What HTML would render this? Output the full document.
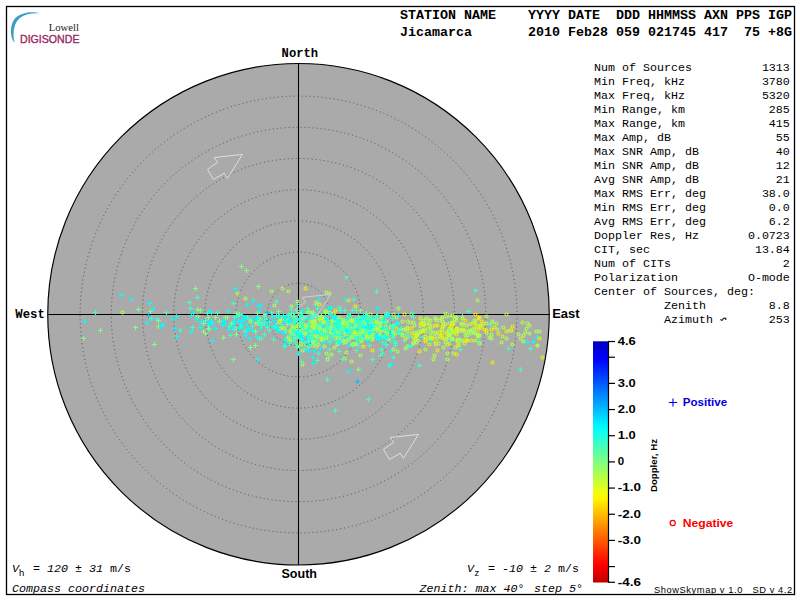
<!DOCTYPE html><html><head><meta charset="utf-8"><style>html,body{margin:0;padding:0;background:#fff;width:800px;height:600px;overflow:hidden}svg{display:block}</style></head><body>
<svg width="800" height="600" viewBox="0 0 800 600">
<defs><linearGradient id="jet" x1="0" y1="0" x2="0" y2="1">
<stop offset="0.000" stop-color="#0000bc"/>
<stop offset="0.025" stop-color="#0000d3"/>
<stop offset="0.050" stop-color="#0000e9"/>
<stop offset="0.075" stop-color="#0001ff"/>
<stop offset="0.100" stop-color="#0017ff"/>
<stop offset="0.125" stop-color="#002dff"/>
<stop offset="0.150" stop-color="#0044ff"/>
<stop offset="0.175" stop-color="#005aff"/>
<stop offset="0.200" stop-color="#0071ff"/>
<stop offset="0.225" stop-color="#0087ff"/>
<stop offset="0.250" stop-color="#009eff"/>
<stop offset="0.275" stop-color="#00b4ff"/>
<stop offset="0.300" stop-color="#00caff"/>
<stop offset="0.325" stop-color="#00e1ff"/>
<stop offset="0.350" stop-color="#00f7ff"/>
<stop offset="0.375" stop-color="#0fffef"/>
<stop offset="0.400" stop-color="#25ffd9"/>
<stop offset="0.425" stop-color="#3cffc2"/>
<stop offset="0.450" stop-color="#52ffac"/>
<stop offset="0.475" stop-color="#69ff95"/>
<stop offset="0.500" stop-color="#7fff7f"/>
<stop offset="0.525" stop-color="#95ff69"/>
<stop offset="0.550" stop-color="#acff52"/>
<stop offset="0.575" stop-color="#c2ff3c"/>
<stop offset="0.600" stop-color="#d9ff25"/>
<stop offset="0.625" stop-color="#efff0f"/>
<stop offset="0.650" stop-color="#fff700"/>
<stop offset="0.675" stop-color="#ffe100"/>
<stop offset="0.700" stop-color="#ffca00"/>
<stop offset="0.725" stop-color="#ffb400"/>
<stop offset="0.750" stop-color="#ff9e00"/>
<stop offset="0.775" stop-color="#ff8700"/>
<stop offset="0.800" stop-color="#ff7100"/>
<stop offset="0.825" stop-color="#ff5a00"/>
<stop offset="0.850" stop-color="#ff4400"/>
<stop offset="0.875" stop-color="#ff2d00"/>
<stop offset="0.900" stop-color="#ff1700"/>
<stop offset="0.925" stop-color="#ff0100"/>
<stop offset="0.950" stop-color="#e90000"/>
<stop offset="0.975" stop-color="#d30000"/>
<stop offset="1.000" stop-color="#bc0000"/>
</linearGradient></defs>
<rect x="0" y="0" width="800" height="600" fill="#fff"/>
<rect x="6.5" y="6.5" width="788" height="588" fill="none" stroke="#000" stroke-width="1.3"/>
<circle cx="298.50" cy="314.25" r="250.75" fill="#aaaaaa" stroke="#000" stroke-width="1.15"/>
<circle cx="298.50" cy="314.50" r="31.20" fill="none" stroke="#505050" stroke-width="1" stroke-dasharray="1 3"/>
<circle cx="298.50" cy="314.50" r="62.40" fill="none" stroke="#505050" stroke-width="1" stroke-dasharray="1 3"/>
<circle cx="298.50" cy="314.50" r="93.60" fill="none" stroke="#505050" stroke-width="1" stroke-dasharray="1 3"/>
<circle cx="298.50" cy="314.50" r="124.80" fill="none" stroke="#505050" stroke-width="1" stroke-dasharray="1 3"/>
<circle cx="298.50" cy="314.50" r="156.00" fill="none" stroke="#505050" stroke-width="1" stroke-dasharray="1 3"/>
<circle cx="298.50" cy="314.50" r="187.20" fill="none" stroke="#505050" stroke-width="1" stroke-dasharray="1 3"/>
<circle cx="298.50" cy="314.50" r="218.40" fill="none" stroke="#505050" stroke-width="1" stroke-dasharray="1 3"/>
<line x1="298.50" y1="63.50" x2="298.50" y2="565.00" stroke="#000" stroke-width="1.05"/>
<line x1="47.75" y1="314.50" x2="549.25" y2="314.50" stroke="#000" stroke-width="1.05"/>
<polygon points="242.5,154.4 214.3,157.5 217.6,162.3 207.5,169.3 213.4,179.5 224.3,173.2 227.4,178.3" fill="none" stroke="#dedede" stroke-width="1.0" stroke-linejoin="miter"/>
<polygon points="418.5,434.4 390.3,437.5 393.6,442.3 383.5,449.3 389.4,459.5 400.3,453.2 403.4,458.3" fill="none" stroke="#dedede" stroke-width="1.0" stroke-linejoin="miter"/>
<g fill="none" stroke-width="1.1">
<path d="M348.0 315.5h5M350.5 313.0v5" stroke="#80ff80"/>
<path d="M308.0 334.5h5M310.5 332.0v5" stroke="#40ffc0"/>
<path d="M210.0 323.5h5M212.5 321.0v5" stroke="#00ffff"/>
<path d="M316.0 334.5h5M318.5 332.0v5" stroke="#40ffc0"/>
<path d="M346.0 326.5h5M348.5 324.0v5" stroke="#40ffc0"/>
<path d="M239.0 320.5h5M241.5 318.0v5" stroke="#00ffff"/>
<path d="M299.0 313.5h5M301.5 311.0v5" stroke="#40ffc0"/>
<circle cx="309.5" cy="312.5" r="1.5" stroke-width="1.15" stroke="#b0ff50"/>
<path d="M307.0 329.5h5M309.5 327.0v5" stroke="#40ffc0"/>
<circle cx="455.5" cy="347.5" r="1.5" stroke-width="1.15" stroke="#b0ff50"/>
<path d="M302.0 317.5h5M304.5 315.0v5" stroke="#00ffff"/>
<circle cx="376.5" cy="319.5" r="1.5" stroke-width="1.15" stroke="#b0ff50"/>
<circle cx="297.5" cy="337.5" r="1.5" stroke-width="1.15" stroke="#b0ff50"/>
<circle cx="441.5" cy="318.5" r="1.5" stroke-width="1.15" stroke="#b0ff50"/>
<circle cx="297.5" cy="346.5" r="1.5" stroke-width="1.15" stroke="#b0ff50"/>
<circle cx="415.5" cy="339.5" r="1.5" stroke-width="1.15" stroke="#b0ff50"/>
<circle cx="456.5" cy="320.5" r="1.5" stroke-width="1.15" stroke="#b0ff50"/>
<circle cx="434.5" cy="355.5" r="1.5" stroke-width="1.15" stroke="#b0ff50"/>
<circle cx="366.5" cy="331.5" r="1.5" stroke-width="1.15" stroke="#b0ff50"/>
<path d="M362.0 332.5h5M364.5 330.0v5" stroke="#00ffff"/>
<path d="M314.0 331.5h5M316.5 329.0v5" stroke="#40ffc0"/>
<path d="M148.0 311.5h5M150.5 309.0v5" stroke="#80ff80"/>
<circle cx="280.5" cy="328.5" r="1.5" stroke-width="1.15" stroke="#b0ff50"/>
<path d="M342.0 325.5h5M344.5 323.0v5" stroke="#40ffc0"/>
<path d="M223.0 317.5h5M225.5 315.0v5" stroke="#80ff80"/>
<path d="M345.0 322.5h5M347.5 320.0v5" stroke="#40ffc0"/>
<path d="M356.0 332.5h5M358.5 330.0v5" stroke="#40ffc0"/>
<path d="M246.0 328.5h5M248.5 326.0v5" stroke="#00ffff"/>
<circle cx="522.5" cy="322.5" r="1.5" stroke-width="1.15" stroke="#b0ff50"/>
<path d="M276.0 331.5h5M278.5 329.0v5" stroke="#00ffff"/>
<circle cx="345.5" cy="329.5" r="1.5" stroke-width="1.15" stroke="#b0ff50"/>
<path d="M244.0 324.5h5M246.5 322.0v5" stroke="#00ffff"/>
<path d="M363.0 315.5h5M365.5 313.0v5" stroke="#00ffff"/>
<path d="M348.0 337.5h5M350.5 335.0v5" stroke="#40ffc0"/>
<path d="M352.0 331.5h5M354.5 329.0v5" stroke="#40ffc0"/>
<path d="M359.0 340.5h5M361.5 338.0v5" stroke="#00ffff"/>
<circle cx="478.5" cy="336.5" r="1.5" stroke-width="1.15" stroke="#b0ff50"/>
<circle cx="314.5" cy="329.5" r="1.5" stroke-width="1.15" stroke="#f2f000"/>
<path d="M346.0 317.5h5M348.5 315.0v5" stroke="#00ffff"/>
<path d="M324.0 327.5h5M326.5 325.0v5" stroke="#40ffc0"/>
<circle cx="300.5" cy="326.5" r="1.5" stroke-width="1.15" stroke="#b0ff50"/>
<circle cx="369.5" cy="333.5" r="1.5" stroke-width="1.15" stroke="#b0ff50"/>
<circle cx="321.5" cy="339.5" r="1.5" stroke-width="1.15" stroke="#b0ff50"/>
<path d="M286.0 317.5h5M288.5 315.0v5" stroke="#00ffff"/>
<path d="M370.0 323.5h5M372.5 321.0v5" stroke="#40ffc0"/>
<circle cx="359.5" cy="331.5" r="1.5" stroke-width="1.15" stroke="#f2f000"/>
<circle cx="337.5" cy="332.5" r="1.5" stroke-width="1.15" stroke="#b0ff50"/>
<path d="M296.0 334.5h5M298.5 332.0v5" stroke="#40ffc0"/>
<path d="M93.0 312.5h5M95.5 310.0v5" stroke="#40ffc0"/>
<path d="M335.0 318.5h5M337.5 316.0v5" stroke="#40ffc0"/>
<path d="M170.0 318.5h5M172.5 316.0v5" stroke="#00ffff"/>
<path d="M335.0 329.5h5M337.5 327.0v5" stroke="#40ffc0"/>
<path d="M234.0 313.5h5M236.5 311.0v5" stroke="#80ff80"/>
<path d="M305.0 337.5h5M307.5 335.0v5" stroke="#00ffff"/>
<path d="M299.0 338.5h5M301.5 336.0v5" stroke="#00ffff"/>
<circle cx="458.5" cy="345.5" r="1.5" stroke-width="1.15" stroke="#b0ff50"/>
<path d="M289.0 313.5h5M291.5 311.0v5" stroke="#80ff80"/>
<path d="M358.0 322.5h5M360.5 320.0v5" stroke="#80ff80"/>
<circle cx="302.5" cy="350.5" r="1.5" stroke-width="1.15" stroke="#b0ff50"/>
<path d="M362.0 319.5h5M364.5 317.0v5" stroke="#00ffff"/>
<circle cx="314.5" cy="325.5" r="1.5" stroke-width="1.15" stroke="#f2f000"/>
<path d="M362.0 324.5h5M364.5 322.0v5" stroke="#40ffc0"/>
<path d="M342.0 327.5h5M344.5 325.0v5" stroke="#00ffff"/>
<path d="M390.0 335.5h5M392.5 333.0v5" stroke="#40ffc0"/>
<circle cx="489.5" cy="337.5" r="1.5" stroke-width="1.15" stroke="#b0ff50"/>
<circle cx="288.5" cy="320.5" r="1.5" stroke-width="1.15" stroke="#b0ff50"/>
<path d="M353.0 332.5h5M355.5 330.0v5" stroke="#00ffff"/>
<path d="M358.0 321.5h5M360.5 319.0v5" stroke="#40ffc0"/>
<path d="M281.0 315.5h5M283.5 313.0v5" stroke="#40ffc0"/>
<path d="M308.0 318.5h5M310.5 316.0v5" stroke="#00ffff"/>
<path d="M312.0 350.5h5M314.5 348.0v5" stroke="#00ffff"/>
<circle cx="453.5" cy="323.5" r="1.5" stroke-width="1.15" stroke="#b0ff50"/>
<path d="M395.0 323.5h5M397.5 321.0v5" stroke="#40ffc0"/>
<circle cx="430.5" cy="320.5" r="1.5" stroke-width="1.15" stroke="#b0ff50"/>
<path d="M136.0 309.5h5M138.5 307.0v5" stroke="#80ff80"/>
<path d="M320.0 332.5h5M322.5 330.0v5" stroke="#40ffc0"/>
<path d="M365.0 327.5h5M367.5 325.0v5" stroke="#40ffc0"/>
<path d="M364.0 323.5h5M366.5 321.0v5" stroke="#00ffff"/>
<circle cx="457.5" cy="340.5" r="1.5" stroke-width="1.15" stroke="#b0ff50"/>
<path d="M201.0 331.5h5M203.5 329.0v5" stroke="#80ff80"/>
<path d="M319.0 315.5h5M321.5 313.0v5" stroke="#40ffc0"/>
<circle cx="410.5" cy="322.5" r="1.5" stroke-width="1.15" stroke="#b0ff50"/>
<path d="M366.0 399.5h5M368.5 397.0v5" stroke="#40ffc0"/>
<path d="M352.0 328.5h5M354.5 326.0v5" stroke="#00ffff"/>
<path d="M284.0 322.5h5M286.5 320.0v5" stroke="#40ffc0"/>
<circle cx="325.5" cy="338.5" r="1.5" stroke-width="1.15" stroke="#b0ff50"/>
<path d="M298.0 330.5h5M300.5 328.0v5" stroke="#40ffc0"/>
<circle cx="428.5" cy="319.5" r="1.5" stroke-width="1.15" stroke="#b0ff50"/>
<path d="M289.0 334.5h5M291.5 332.0v5" stroke="#40ffc0"/>
<circle cx="341.5" cy="327.5" r="1.5" stroke-width="1.15" stroke="#b0ff50"/>
<path d="M243.0 331.5h5M245.5 329.0v5" stroke="#80ff80"/>
<path d="M206.0 323.5h5M208.5 321.0v5" stroke="#00ffff"/>
<path d="M364.0 335.5h5M366.5 333.0v5" stroke="#40ffc0"/>
<path d="M335.0 321.5h5M337.5 319.0v5" stroke="#40ffc0"/>
<circle cx="365.5" cy="327.5" r="1.5" stroke-width="1.15" stroke="#b0ff50"/>
<path d="M312.0 344.5h5M314.5 342.0v5" stroke="#40ffc0"/>
<circle cx="475.5" cy="321.5" r="1.5" stroke-width="1.15" stroke="#b0ff50"/>
<path d="M325.0 323.5h5M327.5 321.0v5" stroke="#40ffc0"/>
<path d="M345.0 325.5h5M347.5 323.0v5" stroke="#40ffc0"/>
<path d="M310.0 317.5h5M312.5 315.0v5" stroke="#00ffff"/>
<path d="M355.0 339.5h5M357.5 337.0v5" stroke="#00ffff"/>
<circle cx="425.5" cy="349.5" r="1.5" stroke-width="1.15" stroke="#b0ff50"/>
<path d="M341.0 336.5h5M343.5 334.0v5" stroke="#40ffc0"/>
<path d="M374.0 291.5h5M376.5 289.0v5" stroke="#40ffc0"/>
<circle cx="290.5" cy="330.5" r="1.5" stroke-width="1.15" stroke="#b0ff50"/>
<circle cx="354.5" cy="328.5" r="1.5" stroke-width="1.15" stroke="#b0ff50"/>
<circle cx="429.5" cy="344.5" r="1.5" stroke-width="1.15" stroke="#f2f000"/>
<circle cx="305.5" cy="288.5" r="1.5" stroke-width="1.15" stroke="#f2f000"/>
<path d="M305.0 324.5h5M307.5 322.0v5" stroke="#40ffc0"/>
<circle cx="474.5" cy="332.5" r="1.5" stroke-width="1.15" stroke="#b0ff50"/>
<circle cx="454.5" cy="319.5" r="1.5" stroke-width="1.15" stroke="#b0ff50"/>
<path d="M345.0 327.5h5M347.5 325.0v5" stroke="#00ffff"/>
<path d="M308.0 335.5h5M310.5 333.0v5" stroke="#40ffc0"/>
<path d="M364.0 329.5h5M366.5 327.0v5" stroke="#00ffff"/>
<circle cx="529.5" cy="325.5" r="1.5" stroke-width="1.15" stroke="#b0ff50"/>
<path d="M360.0 319.5h5M362.5 317.0v5" stroke="#40ffc0"/>
<path d="M239.0 324.5h5M241.5 322.0v5" stroke="#00ffff"/>
<path d="M422.0 319.5h5M424.5 317.0v5" stroke="#40ffc0"/>
<circle cx="320.5" cy="318.5" r="1.5" stroke-width="1.15" stroke="#b0ff50"/>
<path d="M377.0 338.5h5M379.5 336.0v5" stroke="#00ffff"/>
<path d="M334.0 325.5h5M336.5 323.0v5" stroke="#00ffff"/>
<path d="M164.0 312.5h5M166.5 310.0v5" stroke="#40ffc0"/>
<circle cx="446.5" cy="333.5" r="1.5" stroke-width="1.15" stroke="#f2f000"/>
<path d="M193.0 288.5h5M195.5 286.0v5" stroke="#80ff80"/>
<path d="M385.0 339.5h5M387.5 337.0v5" stroke="#80ff80"/>
<circle cx="506.5" cy="338.5" r="1.5" stroke-width="1.15" stroke="#b0ff50"/>
<path d="M285.0 337.5h5M287.5 335.0v5" stroke="#40ffc0"/>
<path d="M195.0 297.5h5M197.5 295.0v5" stroke="#40ffc0"/>
<path d="M373.0 317.5h5M375.5 315.0v5" stroke="#40ffc0"/>
<path d="M334.0 331.5h5M336.5 329.0v5" stroke="#40ffc0"/>
<circle cx="402.5" cy="335.5" r="1.5" stroke-width="1.15" stroke="#b0ff50"/>
<path d="M203.0 320.5h5M205.5 318.0v5" stroke="#40ffc0"/>
<circle cx="450.5" cy="330.5" r="1.5" stroke-width="1.15" stroke="#f2f000"/>
<circle cx="375.5" cy="322.5" r="1.5" stroke-width="1.15" stroke="#b0ff50"/>
<path d="M349.0 319.5h5M351.5 317.0v5" stroke="#80ff80"/>
<circle cx="424.5" cy="329.5" r="1.5" stroke-width="1.15" stroke="#f2f000"/>
<path d="M338.0 331.5h5M340.5 329.0v5" stroke="#40ffc0"/>
<path d="M310.0 341.5h5M312.5 339.0v5" stroke="#40ffc0"/>
<path d="M343.0 325.5h5M345.5 323.0v5" stroke="#40ffc0"/>
<circle cx="305.5" cy="333.5" r="1.5" stroke-width="1.15" stroke="#b0ff50"/>
<path d="M317.0 331.5h5M319.5 329.0v5" stroke="#40ffc0"/>
<path d="M292.0 316.5h5M294.5 314.0v5" stroke="#40ffc0"/>
<circle cx="432.5" cy="326.5" r="1.5" stroke-width="1.15" stroke="#b0ff50"/>
<path d="M256.0 286.5h5M258.5 284.0v5" stroke="#80ff80"/>
<path d="M352.0 320.5h5M354.5 318.0v5" stroke="#00ffff"/>
<path d="M308.0 334.5h5M310.5 332.0v5" stroke="#40ffc0"/>
<circle cx="456.5" cy="328.5" r="1.5" stroke-width="1.15" stroke="#f2f000"/>
<path d="M535.0 337.5h5M537.5 335.0v5" stroke="#00ffff"/>
<circle cx="303.5" cy="344.5" r="1.5" stroke-width="1.15" stroke="#b0ff50"/>
<circle cx="407.5" cy="336.5" r="1.5" stroke-width="1.15" stroke="#f2f000"/>
<circle cx="422.5" cy="330.5" r="1.5" stroke-width="1.15" stroke="#b0ff50"/>
<path d="M245.0 304.5h5M247.5 302.0v5" stroke="#00ffff"/>
<circle cx="477.5" cy="335.5" r="1.5" stroke-width="1.15" stroke="#b0ff50"/>
<path d="M296.0 353.5h5M298.5 351.0v5" stroke="#00ffff"/>
<path d="M392.0 334.5h5M394.5 332.0v5" stroke="#40ffc0"/>
<circle cx="448.5" cy="330.5" r="1.5" stroke-width="1.15" stroke="#b0ff50"/>
<path d="M363.0 328.5h5M365.5 326.0v5" stroke="#40ffc0"/>
<path d="M342.0 321.5h5M344.5 319.0v5" stroke="#00ffff"/>
<path d="M322.0 334.5h5M324.5 332.0v5" stroke="#40ffc0"/>
<path d="M402.0 340.5h5M404.5 338.0v5" stroke="#40ffc0"/>
<circle cx="360.5" cy="339.5" r="1.5" stroke-width="1.15" stroke="#b0ff50"/>
<circle cx="385.5" cy="326.5" r="1.5" stroke-width="1.15" stroke="#b0ff50"/>
<path d="M383.0 344.5h5M385.5 342.0v5" stroke="#00ffff"/>
<circle cx="424.5" cy="324.5" r="1.5" stroke-width="1.15" stroke="#b0ff50"/>
<path d="M325.0 379.5h5M327.5 377.0v5" stroke="#40ffc0"/>
<circle cx="351.5" cy="361.5" r="1.5" stroke-width="1.15" stroke="#b0ff50"/>
<path d="M378.0 325.5h5M380.5 323.0v5" stroke="#40ffc0"/>
<path d="M245.0 331.5h5M247.5 329.0v5" stroke="#00ffff"/>
<path d="M232.0 317.5h5M234.5 315.0v5" stroke="#40ffc0"/>
<path d="M337.0 351.5h5M339.5 349.0v5" stroke="#40ffc0"/>
<path d="M362.0 320.5h5M364.5 318.0v5" stroke="#40ffc0"/>
<circle cx="418.5" cy="331.5" r="1.5" stroke-width="1.15" stroke="#b0ff50"/>
<path d="M258.0 328.5h5M260.5 326.0v5" stroke="#00ffff"/>
<path d="M189.0 331.5h5M191.5 329.0v5" stroke="#00ffff"/>
<circle cx="539.5" cy="338.5" r="1.5" stroke-width="1.15" stroke="#f2f000"/>
<path d="M293.0 318.5h5M295.5 316.0v5" stroke="#40ffc0"/>
<path d="M328.0 325.5h5M330.5 323.0v5" stroke="#40ffc0"/>
<path d="M146.0 315.5h5M148.5 313.0v5" stroke="#00c0ff"/>
<path d="M292.0 337.5h5M294.5 335.0v5" stroke="#40ffc0"/>
<circle cx="405.5" cy="338.5" r="1.5" stroke-width="1.15" stroke="#f2f000"/>
<circle cx="456.5" cy="331.5" r="1.5" stroke-width="1.15" stroke="#f2f000"/>
<path d="M284.0 322.5h5M286.5 320.0v5" stroke="#00ffff"/>
<path d="M381.0 337.5h5M383.5 335.0v5" stroke="#00ffff"/>
<path d="M297.0 320.5h5M299.5 318.0v5" stroke="#00ffff"/>
<circle cx="503.5" cy="327.5" r="1.5" stroke-width="1.15" stroke="#b0ff50"/>
<path d="M323.0 337.5h5M325.5 335.0v5" stroke="#40ffc0"/>
<circle cx="330.5" cy="332.5" r="1.5" stroke-width="1.15" stroke="#f2f000"/>
<circle cx="451.5" cy="338.5" r="1.5" stroke-width="1.15" stroke="#b0ff50"/>
<path d="M336.0 322.5h5M338.5 320.0v5" stroke="#40ffc0"/>
<circle cx="425.5" cy="339.5" r="1.5" stroke-width="1.15" stroke="#f2f000"/>
<circle cx="471.5" cy="340.5" r="1.5" stroke-width="1.15" stroke="#b0ff50"/>
<circle cx="377.5" cy="330.5" r="1.5" stroke-width="1.15" stroke="#b0ff50"/>
<circle cx="390.5" cy="327.5" r="1.5" stroke-width="1.15" stroke="#b0ff50"/>
<path d="M308.0 317.5h5M310.5 315.0v5" stroke="#40ffc0"/>
<circle cx="314.5" cy="320.5" r="1.5" stroke-width="1.15" stroke="#b0ff50"/>
<path d="M366.0 319.5h5M368.5 317.0v5" stroke="#40ffc0"/>
<path d="M275.0 323.5h5M277.5 321.0v5" stroke="#40ffc0"/>
<path d="M267.0 330.5h5M269.5 328.0v5" stroke="#40ffc0"/>
<path d="M322.0 321.5h5M324.5 319.0v5" stroke="#00ffff"/>
<path d="M346.0 337.5h5M348.5 335.0v5" stroke="#40ffc0"/>
<circle cx="364.5" cy="324.5" r="1.5" stroke-width="1.15" stroke="#b0ff50"/>
<circle cx="475.5" cy="340.5" r="1.5" stroke-width="1.15" stroke="#f2f000"/>
<path d="M198.0 327.5h5M200.5 325.0v5" stroke="#00ffff"/>
<circle cx="380.5" cy="327.5" r="1.5" stroke-width="1.15" stroke="#b0ff50"/>
<path d="M362.0 330.5h5M364.5 328.0v5" stroke="#00ffff"/>
<path d="M318.0 327.5h5M320.5 325.0v5" stroke="#40ffc0"/>
<circle cx="356.5" cy="319.5" r="1.5" stroke-width="1.15" stroke="#f2f000"/>
<path d="M334.0 330.5h5M336.5 328.0v5" stroke="#80ff80"/>
<circle cx="437.5" cy="350.5" r="1.5" stroke-width="1.15" stroke="#f2f000"/>
<circle cx="396.5" cy="328.5" r="1.5" stroke-width="1.15" stroke="#ffe400"/>
<circle cx="430.5" cy="329.5" r="1.5" stroke-width="1.15" stroke="#b0ff50"/>
<path d="M304.0 350.5h5M306.5 348.0v5" stroke="#00ffff"/>
<path d="M283.0 345.5h5M285.5 343.0v5" stroke="#00ffff"/>
<path d="M368.0 329.5h5M370.5 327.0v5" stroke="#40ffc0"/>
<path d="M147.0 303.5h5M149.5 301.0v5" stroke="#00ffff"/>
<path d="M369.0 333.5h5M371.5 331.0v5" stroke="#00ffff"/>
<path d="M310.0 324.5h5M312.5 322.0v5" stroke="#40ffc0"/>
<path d="M429.0 339.5h5M431.5 337.0v5" stroke="#40ffc0"/>
<path d="M299.0 317.5h5M301.5 315.0v5" stroke="#00ffff"/>
<path d="M306.0 336.5h5M308.5 334.0v5" stroke="#00ffff"/>
<path d="M329.0 328.5h5M331.5 326.0v5" stroke="#40ffc0"/>
<path d="M311.0 329.5h5M313.5 327.0v5" stroke="#40ffc0"/>
<path d="M420.0 337.5h5M422.5 335.0v5" stroke="#40ffc0"/>
<circle cx="474.5" cy="328.5" r="1.5" stroke-width="1.15" stroke="#b0ff50"/>
<path d="M338.0 342.5h5M340.5 340.0v5" stroke="#00ffff"/>
<circle cx="407.5" cy="327.5" r="1.5" stroke-width="1.15" stroke="#f2f000"/>
<circle cx="297.5" cy="301.5" r="1.5" stroke-width="1.15" stroke="#b0ff50"/>
<circle cx="381.5" cy="316.5" r="1.5" stroke-width="1.15" stroke="#b0ff50"/>
<circle cx="386.5" cy="331.5" r="1.5" stroke-width="1.15" stroke="#b0ff50"/>
<circle cx="472.5" cy="329.5" r="1.5" stroke-width="1.15" stroke="#b0ff50"/>
<path d="M325.0 328.5h5M327.5 326.0v5" stroke="#40ffc0"/>
<path d="M369.0 331.5h5M371.5 329.0v5" stroke="#00ffff"/>
<path d="M369.0 330.5h5M371.5 328.0v5" stroke="#40ffc0"/>
<path d="M308.0 331.5h5M310.5 329.0v5" stroke="#40ffc0"/>
<path d="M293.0 325.5h5M295.5 323.0v5" stroke="#00ffff"/>
<path d="M311.0 363.5h5M313.5 361.0v5" stroke="#00ffff"/>
<path d="M297.0 329.5h5M299.5 327.0v5" stroke="#40ffc0"/>
<circle cx="478.5" cy="329.5" r="1.5" stroke-width="1.15" stroke="#f2f000"/>
<path d="M393.0 345.5h5M395.5 343.0v5" stroke="#40ffc0"/>
<path d="M225.0 317.5h5M227.5 315.0v5" stroke="#80ff80"/>
<circle cx="447.5" cy="344.5" r="1.5" stroke-width="1.15" stroke="#f2f000"/>
<path d="M365.0 316.5h5M367.5 314.0v5" stroke="#80ff80"/>
<circle cx="453.5" cy="353.5" r="1.5" stroke-width="1.15" stroke="#b0ff50"/>
<path d="M361.0 339.5h5M363.5 337.0v5" stroke="#40ffc0"/>
<path d="M382.0 322.5h5M384.5 320.0v5" stroke="#40ffc0"/>
<path d="M323.0 313.5h5M325.5 311.0v5" stroke="#40ffc0"/>
<path d="M340.0 324.5h5M342.5 322.0v5" stroke="#40ffc0"/>
<path d="M313.0 304.5h5M315.5 302.0v5" stroke="#40ffc0"/>
<circle cx="393.5" cy="325.5" r="1.5" stroke-width="1.15" stroke="#b0ff50"/>
<path d="M358.0 310.5h5M360.5 308.0v5" stroke="#80ff80"/>
<path d="M327.0 349.5h5M329.5 347.0v5" stroke="#40ffc0"/>
<path d="M460.0 316.5h5M462.5 314.0v5" stroke="#40ffc0"/>
<path d="M262.0 316.5h5M264.5 314.0v5" stroke="#40ffc0"/>
<path d="M207.0 325.5h5M209.5 323.0v5" stroke="#00ffff"/>
<path d="M213.0 328.5h5M215.5 326.0v5" stroke="#00ffff"/>
<path d="M336.0 327.5h5M338.5 325.0v5" stroke="#80ff80"/>
<path d="M345.0 321.5h5M347.5 319.0v5" stroke="#40ffc0"/>
<circle cx="442.5" cy="317.5" r="1.5" stroke-width="1.15" stroke="#b0ff50"/>
<path d="M231.0 303.5h5M233.5 301.0v5" stroke="#40ffc0"/>
<circle cx="397.5" cy="351.5" r="1.5" stroke-width="1.15" stroke="#b0ff50"/>
<path d="M259.0 325.5h5M261.5 323.0v5" stroke="#40ffc0"/>
<path d="M325.0 335.5h5M327.5 333.0v5" stroke="#00ffff"/>
<circle cx="393.5" cy="314.5" r="1.5" stroke-width="1.15" stroke="#b0ff50"/>
<path d="M356.0 316.5h5M358.5 314.0v5" stroke="#00ffff"/>
<path d="M303.0 327.5h5M305.5 325.0v5" stroke="#40ffc0"/>
<circle cx="501.5" cy="342.5" r="1.5" stroke-width="1.15" stroke="#b0ff50"/>
<circle cx="445.5" cy="313.5" r="1.5" stroke-width="1.15" stroke="#b0ff50"/>
<circle cx="363.5" cy="322.5" r="1.5" stroke-width="1.15" stroke="#b0ff50"/>
<circle cx="348.5" cy="300.5" r="1.5" stroke-width="1.15" stroke="#f2f000"/>
<path d="M377.0 325.5h5M379.5 323.0v5" stroke="#80ff80"/>
<path d="M355.0 339.5h5M357.5 337.0v5" stroke="#00ffff"/>
<circle cx="382.5" cy="330.5" r="1.5" stroke-width="1.15" stroke="#b0ff50"/>
<path d="M356.0 325.5h5M358.5 323.0v5" stroke="#40ffc0"/>
<path d="M311.0 314.5h5M313.5 312.0v5" stroke="#40ffc0"/>
<path d="M377.0 335.5h5M379.5 333.0v5" stroke="#40ffc0"/>
<circle cx="479.5" cy="317.5" r="1.5" stroke-width="1.15" stroke="#f2f000"/>
<path d="M346.0 338.5h5M348.5 336.0v5" stroke="#00ffff"/>
<path d="M357.0 337.5h5M359.5 335.0v5" stroke="#40ffc0"/>
<path d="M373.0 327.5h5M375.5 325.0v5" stroke="#40ffc0"/>
<path d="M354.0 339.5h5M356.5 337.0v5" stroke="#40ffc0"/>
<circle cx="395.5" cy="333.5" r="1.5" stroke-width="1.15" stroke="#b0ff50"/>
<circle cx="350.5" cy="328.5" r="1.5" stroke-width="1.15" stroke="#b0ff50"/>
<path d="M298.0 323.5h5M300.5 321.0v5" stroke="#40ffc0"/>
<path d="M156.0 326.5h5M158.5 324.0v5" stroke="#80ff80"/>
<path d="M269.0 312.5h5M271.5 310.0v5" stroke="#40ffc0"/>
<path d="M287.0 320.5h5M289.5 318.0v5" stroke="#00ffff"/>
<path d="M340.0 322.5h5M342.5 320.0v5" stroke="#40ffc0"/>
<circle cx="378.5" cy="323.5" r="1.5" stroke-width="1.15" stroke="#b0ff50"/>
<path d="M355.0 322.5h5M357.5 320.0v5" stroke="#40ffc0"/>
<path d="M349.0 324.5h5M351.5 322.0v5" stroke="#00ffff"/>
<path d="M317.0 325.5h5M319.5 323.0v5" stroke="#40ffc0"/>
<path d="M311.0 312.5h5M313.5 310.0v5" stroke="#40ffc0"/>
<path d="M98.0 330.5h5M100.5 328.0v5" stroke="#80ff80"/>
<path d="M353.0 322.5h5M355.5 320.0v5" stroke="#00ffff"/>
<circle cx="471.5" cy="333.5" r="1.5" stroke-width="1.15" stroke="#b0ff50"/>
<circle cx="353.5" cy="332.5" r="1.5" stroke-width="1.15" stroke="#b0ff50"/>
<path d="M326.0 357.5h5M328.5 355.0v5" stroke="#40ffc0"/>
<path d="M343.0 330.5h5M345.5 328.0v5" stroke="#40ffc0"/>
<circle cx="337.5" cy="327.5" r="1.5" stroke-width="1.15" stroke="#b0ff50"/>
<circle cx="443.5" cy="326.5" r="1.5" stroke-width="1.15" stroke="#b0ff50"/>
<path d="M293.0 342.5h5M295.5 340.0v5" stroke="#00ffff"/>
<path d="M315.0 308.5h5M317.5 306.0v5" stroke="#40ffc0"/>
<circle cx="474.5" cy="323.5" r="1.5" stroke-width="1.15" stroke="#b0ff50"/>
<path d="M272.0 320.5h5M274.5 318.0v5" stroke="#00ffff"/>
<path d="M384.0 328.5h5M386.5 326.0v5" stroke="#40ffc0"/>
<circle cx="435.5" cy="325.5" r="1.5" stroke-width="1.15" stroke="#f2f000"/>
<path d="M173.0 328.5h5M175.5 326.0v5" stroke="#00ffff"/>
<path d="M301.0 328.5h5M303.5 326.0v5" stroke="#80ff80"/>
<path d="M317.0 299.5h5M319.5 297.0v5" stroke="#00ffff"/>
<circle cx="311.5" cy="324.5" r="1.5" stroke-width="1.15" stroke="#b0ff50"/>
<circle cx="411.5" cy="314.5" r="1.5" stroke-width="1.15" stroke="#b0ff50"/>
<circle cx="465.5" cy="320.5" r="1.5" stroke-width="1.15" stroke="#ffe400"/>
<path d="M335.0 326.5h5M337.5 324.0v5" stroke="#40ffc0"/>
<path d="M149.0 318.5h5M151.5 316.0v5" stroke="#40ffc0"/>
<path d="M336.0 319.5h5M338.5 317.0v5" stroke="#00ffff"/>
<path d="M347.0 345.5h5M349.5 343.0v5" stroke="#40ffc0"/>
<path d="M364.0 335.5h5M366.5 333.0v5" stroke="#80ff80"/>
<circle cx="433.5" cy="332.5" r="1.5" stroke-width="1.15" stroke="#b0ff50"/>
<path d="M391.0 332.5h5M393.5 330.0v5" stroke="#40ffc0"/>
<path d="M325.0 332.5h5M327.5 330.0v5" stroke="#40ffc0"/>
<path d="M351.0 324.5h5M353.5 322.0v5" stroke="#00ffff"/>
<path d="M312.0 336.5h5M314.5 334.0v5" stroke="#40ffc0"/>
<path d="M339.0 330.5h5M341.5 328.0v5" stroke="#40ffc0"/>
<path d="M285.0 324.5h5M287.5 322.0v5" stroke="#80ff80"/>
<circle cx="402.5" cy="334.5" r="1.5" stroke-width="1.15" stroke="#b0ff50"/>
<circle cx="395.5" cy="342.5" r="1.5" stroke-width="1.15" stroke="#b0ff50"/>
<path d="M334.0 333.5h5M336.5 331.0v5" stroke="#40ffc0"/>
<circle cx="299.5" cy="326.5" r="1.5" stroke-width="1.15" stroke="#b0ff50"/>
<path d="M305.0 331.5h5M307.5 329.0v5" stroke="#40ffc0"/>
<circle cx="437.5" cy="325.5" r="1.5" stroke-width="1.15" stroke="#f2f000"/>
<path d="M359.0 326.5h5M361.5 324.0v5" stroke="#80ff80"/>
<circle cx="332.5" cy="320.5" r="1.5" stroke-width="1.15" stroke="#b0ff50"/>
<circle cx="330.5" cy="328.5" r="1.5" stroke-width="1.15" stroke="#b0ff50"/>
<circle cx="411.5" cy="328.5" r="1.5" stroke-width="1.15" stroke="#f2f000"/>
<circle cx="348.5" cy="315.5" r="1.5" stroke-width="1.15" stroke="#b0ff50"/>
<circle cx="529.5" cy="333.5" r="1.5" stroke-width="1.15" stroke="#b0ff50"/>
<circle cx="338.5" cy="324.5" r="1.5" stroke-width="1.15" stroke="#b0ff50"/>
<circle cx="475.5" cy="314.5" r="1.5" stroke-width="1.15" stroke="#ffe400"/>
<path d="M428.0 340.5h5M430.5 338.0v5" stroke="#00ffff"/>
<circle cx="376.5" cy="323.5" r="1.5" stroke-width="1.15" stroke="#b0ff50"/>
<path d="M356.0 333.5h5M358.5 331.0v5" stroke="#40ffc0"/>
<circle cx="452.5" cy="331.5" r="1.5" stroke-width="1.15" stroke="#f2f000"/>
<path d="M365.0 329.5h5M367.5 327.0v5" stroke="#80ff80"/>
<circle cx="356.5" cy="331.5" r="1.5" stroke-width="1.15" stroke="#b0ff50"/>
<circle cx="197.5" cy="316.5" r="1.5" stroke-width="1.15" stroke="#b0ff50"/>
<circle cx="364.5" cy="328.5" r="1.5" stroke-width="1.15" stroke="#b0ff50"/>
<circle cx="479.5" cy="343.5" r="1.5" stroke-width="1.15" stroke="#b0ff50"/>
<circle cx="307.5" cy="312.5" r="1.5" stroke-width="1.15" stroke="#b0ff50"/>
<circle cx="379.5" cy="329.5" r="1.5" stroke-width="1.15" stroke="#b0ff50"/>
<path d="M342.0 321.5h5M344.5 319.0v5" stroke="#00ffff"/>
<path d="M397.0 332.5h5M399.5 330.0v5" stroke="#40ffc0"/>
<circle cx="320.5" cy="320.5" r="1.5" stroke-width="1.15" stroke="#f2f000"/>
<circle cx="432.5" cy="338.5" r="1.5" stroke-width="1.15" stroke="#b0ff50"/>
<path d="M234.0 334.5h5M236.5 332.0v5" stroke="#80ff80"/>
<path d="M357.0 318.5h5M359.5 316.0v5" stroke="#40ffc0"/>
<path d="M276.0 328.5h5M278.5 326.0v5" stroke="#00ffff"/>
<path d="M289.0 331.5h5M291.5 329.0v5" stroke="#80ff80"/>
<path d="M338.0 310.5h5M340.5 308.0v5" stroke="#40ffc0"/>
<circle cx="449.5" cy="334.5" r="1.5" stroke-width="1.15" stroke="#b0ff50"/>
<path d="M346.0 329.5h5M348.5 327.0v5" stroke="#00ffff"/>
<circle cx="344.5" cy="358.5" r="1.5" stroke-width="1.15" stroke="#b0ff50"/>
<circle cx="512.5" cy="326.5" r="1.5" stroke-width="1.15" stroke="#f2f000"/>
<circle cx="462.5" cy="318.5" r="1.5" stroke-width="1.15" stroke="#f2f000"/>
<path d="M194.0 319.5h5M196.5 317.0v5" stroke="#00ffff"/>
<path d="M368.0 332.5h5M370.5 330.0v5" stroke="#00ffff"/>
<circle cx="461.5" cy="324.5" r="1.5" stroke-width="1.15" stroke="#b0ff50"/>
<path d="M226.0 329.5h5M228.5 327.0v5" stroke="#00ffff"/>
<circle cx="366.5" cy="337.5" r="1.5" stroke-width="1.15" stroke="#f2f000"/>
<path d="M326.0 320.5h5M328.5 318.0v5" stroke="#40ffc0"/>
<path d="M243.0 335.5h5M245.5 333.0v5" stroke="#00ffff"/>
<circle cx="438.5" cy="343.5" r="1.5" stroke-width="1.15" stroke="#b0ff50"/>
<circle cx="456.5" cy="334.5" r="1.5" stroke-width="1.15" stroke="#f2f000"/>
<path d="M330.0 340.5h5M332.5 338.0v5" stroke="#00ffff"/>
<circle cx="373.5" cy="322.5" r="1.5" stroke-width="1.15" stroke="#f2f000"/>
<path d="M242.0 318.5h5M244.5 316.0v5" stroke="#00ffff"/>
<circle cx="300.5" cy="333.5" r="1.5" stroke-width="1.15" stroke="#f2f000"/>
<circle cx="355.5" cy="344.5" r="1.5" stroke-width="1.15" stroke="#b0ff50"/>
<path d="M270.0 326.5h5M272.5 324.0v5" stroke="#40ffc0"/>
<circle cx="415.5" cy="338.5" r="1.5" stroke-width="1.15" stroke="#f2f000"/>
<path d="M264.0 319.5h5M266.5 317.0v5" stroke="#40ffc0"/>
<path d="M380.0 342.5h5M382.5 340.0v5" stroke="#40ffc0"/>
<path d="M375.0 308.5h5M377.5 306.0v5" stroke="#00ffff"/>
<circle cx="334.5" cy="329.5" r="1.5" stroke-width="1.15" stroke="#b0ff50"/>
<path d="M345.0 339.5h5M347.5 337.0v5" stroke="#40ffc0"/>
<circle cx="271.5" cy="291.5" r="1.5" stroke-width="1.15" stroke="#b0ff50"/>
<path d="M323.0 332.5h5M325.5 330.0v5" stroke="#40ffc0"/>
<path d="M316.0 332.5h5M318.5 330.0v5" stroke="#40ffc0"/>
<path d="M391.0 337.5h5M393.5 335.0v5" stroke="#40ffc0"/>
<circle cx="413.5" cy="342.5" r="1.5" stroke-width="1.15" stroke="#b0ff50"/>
<path d="M264.0 325.5h5M266.5 323.0v5" stroke="#00ffff"/>
<path d="M331.0 328.5h5M333.5 326.0v5" stroke="#40ffc0"/>
<path d="M335.0 336.5h5M337.5 334.0v5" stroke="#80ff80"/>
<circle cx="434.5" cy="336.5" r="1.5" stroke-width="1.15" stroke="#b0ff50"/>
<path d="M332.0 318.5h5M334.5 316.0v5" stroke="#00ffff"/>
<circle cx="338.5" cy="333.5" r="1.5" stroke-width="1.15" stroke="#f2f000"/>
<path d="M313.0 314.5h5M315.5 312.0v5" stroke="#40ffc0"/>
<path d="M438.0 330.5h5M440.5 328.0v5" stroke="#40ffc0"/>
<circle cx="311.5" cy="330.5" r="1.5" stroke-width="1.15" stroke="#f2f000"/>
<circle cx="317.5" cy="336.5" r="1.5" stroke-width="1.15" stroke="#b0ff50"/>
<path d="M356.0 325.5h5M358.5 323.0v5" stroke="#00ffff"/>
<path d="M322.0 322.5h5M324.5 320.0v5" stroke="#80ff80"/>
<path d="M235.0 316.5h5M237.5 314.0v5" stroke="#00ffff"/>
<circle cx="396.5" cy="317.5" r="1.5" stroke-width="1.15" stroke="#b0ff50"/>
<circle cx="363.5" cy="329.5" r="1.5" stroke-width="1.15" stroke="#b0ff50"/>
<circle cx="527.5" cy="323.5" r="1.5" stroke-width="1.15" stroke="#b0ff50"/>
<circle cx="363.5" cy="346.5" r="1.5" stroke-width="1.15" stroke="#f2f000"/>
<path d="M318.0 336.5h5M320.5 334.0v5" stroke="#40ffc0"/>
<path d="M376.0 331.5h5M378.5 329.0v5" stroke="#40ffc0"/>
<circle cx="319.5" cy="318.5" r="1.5" stroke-width="1.15" stroke="#f2f000"/>
<circle cx="379.5" cy="329.5" r="1.5" stroke-width="1.15" stroke="#b0ff50"/>
<path d="M355.0 323.5h5M357.5 321.0v5" stroke="#40ffc0"/>
<path d="M335.0 333.5h5M337.5 331.0v5" stroke="#00ffff"/>
<path d="M343.0 325.5h5M345.5 323.0v5" stroke="#40ffc0"/>
<circle cx="475.5" cy="333.5" r="1.5" stroke-width="1.15" stroke="#b0ff50"/>
<path d="M247.0 338.5h5M249.5 336.0v5" stroke="#00ffff"/>
<path d="M257.0 318.5h5M259.5 316.0v5" stroke="#00ffff"/>
<path d="M203.0 333.5h5M205.5 331.0v5" stroke="#80ff80"/>
<path d="M230.0 329.5h5M232.5 327.0v5" stroke="#00ffff"/>
<circle cx="498.5" cy="333.5" r="1.5" stroke-width="1.15" stroke="#f2f000"/>
<path d="M247.0 319.5h5M249.5 317.0v5" stroke="#40ffc0"/>
<path d="M340.0 359.5h5M342.5 357.0v5" stroke="#40ffc0"/>
<circle cx="350.5" cy="322.5" r="1.5" stroke-width="1.15" stroke="#f2f000"/>
<circle cx="305.5" cy="332.5" r="1.5" stroke-width="1.15" stroke="#f2f000"/>
<path d="M294.0 310.5h5M296.5 308.0v5" stroke="#40ffc0"/>
<circle cx="457.5" cy="331.5" r="1.5" stroke-width="1.15" stroke="#b0ff50"/>
<path d="M287.0 340.5h5M289.5 338.0v5" stroke="#40ffc0"/>
<circle cx="353.5" cy="320.5" r="1.5" stroke-width="1.15" stroke="#b0ff50"/>
<path d="M406.0 336.5h5M408.5 334.0v5" stroke="#40ffc0"/>
<path d="M320.0 335.5h5M322.5 333.0v5" stroke="#40ffc0"/>
<circle cx="335.5" cy="323.5" r="1.5" stroke-width="1.15" stroke="#b0ff50"/>
<path d="M315.0 360.5h5M317.5 358.0v5" stroke="#40ffc0"/>
<path d="M348.0 337.5h5M350.5 335.0v5" stroke="#40ffc0"/>
<circle cx="407.5" cy="346.5" r="1.5" stroke-width="1.15" stroke="#b0ff50"/>
<path d="M359.0 332.5h5M361.5 330.0v5" stroke="#40ffc0"/>
<circle cx="469.5" cy="330.5" r="1.5" stroke-width="1.15" stroke="#b0ff50"/>
<circle cx="387.5" cy="337.5" r="1.5" stroke-width="1.15" stroke="#b0ff50"/>
<path d="M372.0 325.5h5M374.5 323.0v5" stroke="#40ffc0"/>
<circle cx="312.5" cy="345.5" r="1.5" stroke-width="1.15" stroke="#b0ff50"/>
<circle cx="323.5" cy="318.5" r="1.5" stroke-width="1.15" stroke="#b0ff50"/>
<path d="M344.0 320.5h5M346.5 318.0v5" stroke="#00ffff"/>
<path d="M359.0 325.5h5M361.5 323.0v5" stroke="#40ffc0"/>
<path d="M291.0 316.5h5M293.5 314.0v5" stroke="#80ff80"/>
<path d="M341.0 325.5h5M343.5 323.0v5" stroke="#40ffc0"/>
<path d="M347.0 323.5h5M349.5 321.0v5" stroke="#40ffc0"/>
<circle cx="423.5" cy="330.5" r="1.5" stroke-width="1.15" stroke="#b0ff50"/>
<path d="M337.0 307.5h5M339.5 305.0v5" stroke="#40ffc0"/>
<path d="M403.0 335.5h5M405.5 333.0v5" stroke="#40ffc0"/>
<path d="M346.0 371.5h5M348.5 369.0v5" stroke="#00ffff"/>
<path d="M295.0 319.5h5M297.5 317.0v5" stroke="#40ffc0"/>
<path d="M325.0 311.5h5M327.5 309.0v5" stroke="#40ffc0"/>
<path d="M338.0 325.5h5M340.5 323.0v5" stroke="#40ffc0"/>
<circle cx="321.5" cy="332.5" r="1.5" stroke-width="1.15" stroke="#b0ff50"/>
<path d="M374.0 326.5h5M376.5 324.0v5" stroke="#40ffc0"/>
<path d="M265.0 327.5h5M267.5 325.0v5" stroke="#40ffc0"/>
<path d="M355.0 334.5h5M357.5 332.0v5" stroke="#00ffff"/>
<circle cx="355.5" cy="334.5" r="1.5" stroke-width="1.15" stroke="#f2f000"/>
<path d="M263.0 314.5h5M265.5 312.0v5" stroke="#80ff80"/>
<circle cx="329.5" cy="312.5" r="1.5" stroke-width="1.15" stroke="#b0ff50"/>
<path d="M254.0 336.5h5M256.5 334.0v5" stroke="#00ffff"/>
<circle cx="456.5" cy="317.5" r="1.5" stroke-width="1.15" stroke="#b0ff50"/>
<circle cx="442.5" cy="326.5" r="1.5" stroke-width="1.15" stroke="#f2f000"/>
<path d="M389.0 351.5h5M391.5 349.0v5" stroke="#00ffff"/>
<path d="M276.0 316.5h5M278.5 314.0v5" stroke="#40ffc0"/>
<path d="M348.0 337.5h5M350.5 335.0v5" stroke="#00ffff"/>
<circle cx="372.5" cy="350.5" r="1.5" stroke-width="1.15" stroke="#f2f000"/>
<path d="M236.0 321.5h5M238.5 319.0v5" stroke="#00ffff"/>
<path d="M301.0 319.5h5M303.5 317.0v5" stroke="#40ffc0"/>
<circle cx="300.5" cy="326.5" r="1.5" stroke-width="1.15" stroke="#b0ff50"/>
<path d="M239.0 321.5h5M241.5 319.0v5" stroke="#00ffff"/>
<path d="M298.0 327.5h5M300.5 325.0v5" stroke="#80ff80"/>
<path d="M207.0 329.5h5M209.5 327.0v5" stroke="#40ffc0"/>
<path d="M362.0 325.5h5M364.5 323.0v5" stroke="#40ffc0"/>
<path d="M375.0 315.5h5M377.5 313.0v5" stroke="#40ffc0"/>
<circle cx="457.5" cy="341.5" r="1.5" stroke-width="1.15" stroke="#b0ff50"/>
<path d="M301.0 329.5h5M303.5 327.0v5" stroke="#40ffc0"/>
<path d="M339.0 329.5h5M341.5 327.0v5" stroke="#00ffff"/>
<path d="M307.0 326.5h5M309.5 324.0v5" stroke="#40ffc0"/>
<path d="M154.0 319.5h5M156.5 317.0v5" stroke="#00ffff"/>
<path d="M360.0 328.5h5M362.5 326.0v5" stroke="#40ffc0"/>
<path d="M344.0 277.5h5M346.5 275.0v5" stroke="#40ffc0"/>
<circle cx="411.5" cy="333.5" r="1.5" stroke-width="1.15" stroke="#f2f000"/>
<path d="M362.0 331.5h5M364.5 329.0v5" stroke="#40ffc0"/>
<circle cx="370.5" cy="314.5" r="1.5" stroke-width="1.15" stroke="#b0ff50"/>
<path d="M156.0 320.5h5M158.5 318.0v5" stroke="#80ff80"/>
<path d="M382.0 328.5h5M384.5 326.0v5" stroke="#40ffc0"/>
<path d="M334.0 326.5h5M336.5 324.0v5" stroke="#00ffff"/>
<circle cx="450.5" cy="332.5" r="1.5" stroke-width="1.15" stroke="#b0ff50"/>
<circle cx="306.5" cy="327.5" r="1.5" stroke-width="1.15" stroke="#b0ff50"/>
<path d="M359.0 319.5h5M361.5 317.0v5" stroke="#40ffc0"/>
<path d="M358.0 327.5h5M360.5 325.0v5" stroke="#40ffc0"/>
<path d="M302.0 349.5h5M304.5 347.0v5" stroke="#40ffc0"/>
<path d="M347.0 331.5h5M349.5 329.0v5" stroke="#40ffc0"/>
<circle cx="428.5" cy="328.5" r="1.5" stroke-width="1.15" stroke="#f2f000"/>
<path d="M448.0 338.5h5M450.5 336.0v5" stroke="#40ffc0"/>
<circle cx="333.5" cy="313.5" r="1.5" stroke-width="1.15" stroke="#b0ff50"/>
<path d="M316.0 353.5h5M318.5 351.0v5" stroke="#40ffc0"/>
<path d="M361.0 324.5h5M363.5 322.0v5" stroke="#40ffc0"/>
<path d="M343.0 335.5h5M345.5 333.0v5" stroke="#00ffff"/>
<circle cx="459.5" cy="339.5" r="1.5" stroke-width="1.15" stroke="#b0ff50"/>
<path d="M266.0 320.5h5M268.5 318.0v5" stroke="#00c0ff"/>
<path d="M328.0 332.5h5M330.5 330.0v5" stroke="#00ffff"/>
<path d="M198.0 321.5h5M200.5 319.0v5" stroke="#00ffff"/>
<path d="M518.0 369.5h5M520.5 367.0v5" stroke="#40ffc0"/>
<circle cx="436.5" cy="320.5" r="1.5" stroke-width="1.15" stroke="#b0ff50"/>
<circle cx="439.5" cy="320.5" r="1.5" stroke-width="1.15" stroke="#b0ff50"/>
<circle cx="491.5" cy="334.5" r="1.5" stroke-width="1.15" stroke="#b0ff50"/>
<path d="M281.0 320.5h5M283.5 318.0v5" stroke="#00ffff"/>
<circle cx="375.5" cy="320.5" r="1.5" stroke-width="1.15" stroke="#b0ff50"/>
<circle cx="425.5" cy="331.5" r="1.5" stroke-width="1.15" stroke="#f2f000"/>
<path d="M367.0 320.5h5M369.5 318.0v5" stroke="#00ffff"/>
<path d="M257.0 322.5h5M259.5 320.0v5" stroke="#40ffc0"/>
<path d="M305.0 317.5h5M307.5 315.0v5" stroke="#00ffff"/>
<path d="M297.0 326.5h5M299.5 324.0v5" stroke="#40ffc0"/>
<path d="M310.0 326.5h5M312.5 324.0v5" stroke="#40ffc0"/>
<circle cx="361.5" cy="341.5" r="1.5" stroke-width="1.15" stroke="#b0ff50"/>
<circle cx="359.5" cy="330.5" r="1.5" stroke-width="1.15" stroke="#b0ff50"/>
<circle cx="316.5" cy="328.5" r="1.5" stroke-width="1.15" stroke="#b0ff50"/>
<circle cx="472.5" cy="323.5" r="1.5" stroke-width="1.15" stroke="#f2f000"/>
<circle cx="484.5" cy="329.5" r="1.5" stroke-width="1.15" stroke="#f2f000"/>
<circle cx="384.5" cy="330.5" r="1.5" stroke-width="1.15" stroke="#b0ff50"/>
<path d="M351.0 320.5h5M353.5 318.0v5" stroke="#40ffc0"/>
<path d="M351.0 344.5h5M353.5 342.0v5" stroke="#80ff80"/>
<path d="M306.0 350.5h5M308.5 348.0v5" stroke="#00ffff"/>
<path d="M365.0 333.5h5M367.5 331.0v5" stroke="#40ffc0"/>
<circle cx="306.5" cy="332.5" r="1.5" stroke-width="1.15" stroke="#b0ff50"/>
<circle cx="494.5" cy="327.5" r="1.5" stroke-width="1.15" stroke="#f2f000"/>
<circle cx="423.5" cy="320.5" r="1.5" stroke-width="1.15" stroke="#b0ff50"/>
<path d="M374.0 338.5h5M376.5 336.0v5" stroke="#00ffff"/>
<path d="M323.0 318.5h5M325.5 316.0v5" stroke="#00ffff"/>
<circle cx="448.5" cy="334.5" r="1.5" stroke-width="1.15" stroke="#b0ff50"/>
<circle cx="363.5" cy="326.5" r="1.5" stroke-width="1.15" stroke="#f2f000"/>
<path d="M355.0 343.5h5M357.5 341.0v5" stroke="#40ffc0"/>
<circle cx="337.5" cy="329.5" r="1.5" stroke-width="1.15" stroke="#b0ff50"/>
<circle cx="344.5" cy="323.5" r="1.5" stroke-width="1.15" stroke="#b0ff50"/>
<path d="M302.0 324.5h5M304.5 322.0v5" stroke="#40ffc0"/>
<circle cx="360.5" cy="355.5" r="1.5" stroke-width="1.15" stroke="#b0ff50"/>
<path d="M528.0 348.5h5M530.5 346.0v5" stroke="#40ffc0"/>
<path d="M322.0 339.5h5M324.5 337.0v5" stroke="#40ffc0"/>
<circle cx="518.5" cy="334.5" r="1.5" stroke-width="1.15" stroke="#b0ff50"/>
<path d="M283.0 331.5h5M285.5 329.0v5" stroke="#40ffc0"/>
<path d="M270.0 316.5h5M272.5 314.0v5" stroke="#40ffc0"/>
<path d="M369.0 325.5h5M371.5 323.0v5" stroke="#80ff80"/>
<path d="M406.0 346.5h5M408.5 344.0v5" stroke="#40ffc0"/>
<path d="M466.0 311.5h5M468.5 309.0v5" stroke="#40ffc0"/>
<circle cx="536.5" cy="331.5" r="1.5" stroke-width="1.15" stroke="#b0ff50"/>
<path d="M292.0 328.5h5M294.5 326.0v5" stroke="#40ffc0"/>
<circle cx="454.5" cy="332.5" r="1.5" stroke-width="1.15" stroke="#b0ff50"/>
<path d="M369.0 330.5h5M371.5 328.0v5" stroke="#40ffc0"/>
<path d="M370.0 359.5h5M372.5 357.0v5" stroke="#40ffc0"/>
<path d="M286.0 314.5h5M288.5 312.0v5" stroke="#00ffff"/>
<circle cx="414.5" cy="325.5" r="1.5" stroke-width="1.15" stroke="#b0ff50"/>
<path d="M206.0 317.5h5M208.5 315.0v5" stroke="#80ff80"/>
<path d="M382.0 335.5h5M384.5 333.0v5" stroke="#00ffff"/>
<path d="M255.0 316.5h5M257.5 314.0v5" stroke="#00ffff"/>
<circle cx="316.5" cy="302.5" r="1.5" stroke-width="1.15" stroke="#b0ff50"/>
<circle cx="456.5" cy="329.5" r="1.5" stroke-width="1.15" stroke="#ffe400"/>
<circle cx="526.5" cy="328.5" r="1.5" stroke-width="1.15" stroke="#b0ff50"/>
<path d="M372.0 319.5h5M374.5 317.0v5" stroke="#00ffff"/>
<path d="M302.0 342.5h5M304.5 340.0v5" stroke="#40ffc0"/>
<path d="M364.0 326.5h5M366.5 324.0v5" stroke="#00ffff"/>
<path d="M271.0 339.5h5M273.5 337.0v5" stroke="#40ffc0"/>
<path d="M399.0 328.5h5M401.5 326.0v5" stroke="#40ffc0"/>
<path d="M335.0 324.5h5M337.5 322.0v5" stroke="#40ffc0"/>
<path d="M336.0 338.5h5M338.5 336.0v5" stroke="#40ffc0"/>
<circle cx="421.5" cy="331.5" r="1.5" stroke-width="1.15" stroke="#f2f000"/>
<path d="M289.0 324.5h5M291.5 322.0v5" stroke="#40ffc0"/>
<path d="M223.0 323.5h5M225.5 321.0v5" stroke="#00ffff"/>
<circle cx="523.5" cy="335.5" r="1.5" stroke-width="1.15" stroke="#b0ff50"/>
<circle cx="380.5" cy="321.5" r="1.5" stroke-width="1.15" stroke="#b0ff50"/>
<circle cx="419.5" cy="351.5" r="1.5" stroke-width="1.15" stroke="#f2f000"/>
<circle cx="442.5" cy="329.5" r="1.5" stroke-width="1.15" stroke="#f2f000"/>
<circle cx="316.5" cy="340.5" r="1.5" stroke-width="1.15" stroke="#f2f000"/>
<path d="M329.0 331.5h5M331.5 329.0v5" stroke="#40ffc0"/>
<circle cx="416.5" cy="335.5" r="1.5" stroke-width="1.15" stroke="#b0ff50"/>
<path d="M342.0 310.5h5M344.5 308.0v5" stroke="#40ffc0"/>
<circle cx="348.5" cy="327.5" r="1.5" stroke-width="1.15" stroke="#b0ff50"/>
<path d="M299.0 339.5h5M301.5 337.0v5" stroke="#40ffc0"/>
<circle cx="280.5" cy="319.5" r="1.5" stroke-width="1.15" stroke="#b0ff50"/>
<path d="M345.0 331.5h5M347.5 329.0v5" stroke="#40ffc0"/>
<circle cx="369.5" cy="335.5" r="1.5" stroke-width="1.15" stroke="#b0ff50"/>
<path d="M309.0 337.5h5M311.5 335.0v5" stroke="#00ffff"/>
<path d="M376.0 338.5h5M378.5 336.0v5" stroke="#00ffff"/>
<path d="M353.0 337.5h5M355.5 335.0v5" stroke="#40ffc0"/>
<path d="M356.0 331.5h5M358.5 329.0v5" stroke="#40ffc0"/>
<path d="M178.0 330.5h5M180.5 328.0v5" stroke="#40ffc0"/>
<path d="M305.0 340.5h5M307.5 338.0v5" stroke="#00ffff"/>
<path d="M286.0 315.5h5M288.5 313.0v5" stroke="#40ffc0"/>
<path d="M356.0 322.5h5M358.5 320.0v5" stroke="#00ffff"/>
<path d="M298.0 335.5h5M300.5 333.0v5" stroke="#00ffff"/>
<path d="M341.0 321.5h5M343.5 319.0v5" stroke="#40ffc0"/>
<path d="M286.0 323.5h5M288.5 321.0v5" stroke="#40ffc0"/>
<circle cx="330.5" cy="335.5" r="1.5" stroke-width="1.15" stroke="#b0ff50"/>
<circle cx="343.5" cy="340.5" r="1.5" stroke-width="1.15" stroke="#b0ff50"/>
<circle cx="302.5" cy="364.5" r="1.5" stroke-width="1.15" stroke="#b0ff50"/>
<circle cx="492.5" cy="362.5" r="1.5" stroke-width="1.15" stroke="#f2f000"/>
<circle cx="491.5" cy="329.5" r="1.5" stroke-width="1.15" stroke="#f2f000"/>
<path d="M227.0 326.5h5M229.5 324.0v5" stroke="#40ffc0"/>
<path d="M313.0 328.5h5M315.5 326.0v5" stroke="#40ffc0"/>
<path d="M309.0 344.5h5M311.5 342.0v5" stroke="#40ffc0"/>
<path d="M361.0 315.5h5M363.5 313.0v5" stroke="#00ffff"/>
<path d="M333.0 330.5h5M335.5 328.0v5" stroke="#00ffff"/>
<path d="M373.0 325.5h5M375.5 323.0v5" stroke="#00ffff"/>
<path d="M295.0 304.5h5M297.5 302.0v5" stroke="#40ffc0"/>
<path d="M296.0 331.5h5M298.5 329.0v5" stroke="#00ffff"/>
<circle cx="497.5" cy="329.5" r="1.5" stroke-width="1.15" stroke="#b0ff50"/>
<path d="M323.0 335.5h5M325.5 333.0v5" stroke="#40ffc0"/>
<circle cx="381.5" cy="322.5" r="1.5" stroke-width="1.15" stroke="#b0ff50"/>
<path d="M388.0 340.5h5M390.5 338.0v5" stroke="#40ffc0"/>
<path d="M391.0 326.5h5M393.5 324.0v5" stroke="#40ffc0"/>
<path d="M351.0 336.5h5M353.5 334.0v5" stroke="#40ffc0"/>
<circle cx="357.5" cy="332.5" r="1.5" stroke-width="1.15" stroke="#f2f000"/>
<path d="M368.0 338.5h5M370.5 336.0v5" stroke="#40ffc0"/>
<path d="M349.0 332.5h5M351.5 330.0v5" stroke="#40ffc0"/>
<path d="M285.0 339.5h5M287.5 337.0v5" stroke="#40ffc0"/>
<path d="M291.0 313.5h5M293.5 311.0v5" stroke="#40ffc0"/>
<path d="M322.0 318.5h5M324.5 316.0v5" stroke="#00ffff"/>
<path d="M315.0 337.5h5M317.5 335.0v5" stroke="#40ffc0"/>
<circle cx="437.5" cy="333.5" r="1.5" stroke-width="1.15" stroke="#b0ff50"/>
<path d="M336.0 329.5h5M338.5 327.0v5" stroke="#40ffc0"/>
<circle cx="432.5" cy="338.5" r="1.5" stroke-width="1.15" stroke="#ffe400"/>
<circle cx="291.5" cy="306.5" r="1.5" stroke-width="1.15" stroke="#b0ff50"/>
<path d="M296.0 333.5h5M298.5 331.0v5" stroke="#40ffc0"/>
<path d="M145.0 322.5h5M147.5 320.0v5" stroke="#00ffff"/>
<path d="M300.0 340.5h5M302.5 338.0v5" stroke="#00ffff"/>
<path d="M174.0 316.5h5M176.5 314.0v5" stroke="#00ffff"/>
<path d="M321.0 331.5h5M323.5 329.0v5" stroke="#40ffc0"/>
<circle cx="450.5" cy="330.5" r="1.5" stroke-width="1.15" stroke="#b0ff50"/>
<circle cx="350.5" cy="320.5" r="1.5" stroke-width="1.15" stroke="#b0ff50"/>
<circle cx="433.5" cy="359.5" r="1.5" stroke-width="1.15" stroke="#b0ff50"/>
<circle cx="492.5" cy="321.5" r="1.5" stroke-width="1.15" stroke="#b0ff50"/>
<path d="M364.0 318.5h5M366.5 316.0v5" stroke="#40ffc0"/>
<path d="M473.0 290.5h5M475.5 288.0v5" stroke="#40ffc0"/>
<circle cx="413.5" cy="343.5" r="1.5" stroke-width="1.15" stroke="#b0ff50"/>
<path d="M332.0 323.5h5M334.5 321.0v5" stroke="#00ffff"/>
<circle cx="448.5" cy="335.5" r="1.5" stroke-width="1.15" stroke="#b0ff50"/>
<circle cx="523.5" cy="341.5" r="1.5" stroke-width="1.15" stroke="#b0ff50"/>
<path d="M327.0 342.5h5M329.5 340.0v5" stroke="#40ffc0"/>
<path d="M325.0 325.5h5M327.5 323.0v5" stroke="#40ffc0"/>
<path d="M354.0 310.5h5M356.5 308.0v5" stroke="#40ffc0"/>
<path d="M209.0 321.5h5M211.5 319.0v5" stroke="#00ffff"/>
<path d="M383.0 338.5h5M385.5 336.0v5" stroke="#00ffff"/>
<path d="M259.0 338.5h5M261.5 336.0v5" stroke="#40ffc0"/>
<path d="M362.0 323.5h5M364.5 321.0v5" stroke="#40ffc0"/>
<circle cx="388.5" cy="338.5" r="1.5" stroke-width="1.15" stroke="#b0ff50"/>
<path d="M311.0 330.5h5M313.5 328.0v5" stroke="#40ffc0"/>
<path d="M291.0 340.5h5M293.5 338.0v5" stroke="#40ffc0"/>
<path d="M347.0 345.5h5M349.5 343.0v5" stroke="#00ffff"/>
<path d="M282.0 346.5h5M284.5 344.0v5" stroke="#40ffc0"/>
<circle cx="398.5" cy="308.5" r="1.5" stroke-width="1.15" stroke="#b0ff50"/>
<path d="M321.0 330.5h5M323.5 328.0v5" stroke="#80ff80"/>
<path d="M205.0 313.5h5M207.5 311.0v5" stroke="#40ffc0"/>
<circle cx="506.5" cy="314.5" r="1.5" stroke-width="1.15" stroke="#b0ff50"/>
<path d="M279.0 319.5h5M281.5 317.0v5" stroke="#80ff80"/>
<path d="M283.0 320.5h5M285.5 318.0v5" stroke="#00ffff"/>
<circle cx="405.5" cy="329.5" r="1.5" stroke-width="1.15" stroke="#b0ff50"/>
<path d="M298.0 337.5h5M300.5 335.0v5" stroke="#00ffff"/>
<path d="M324.0 321.5h5M326.5 319.0v5" stroke="#40ffc0"/>
<circle cx="282.5" cy="288.5" r="1.5" stroke-width="1.15" stroke="#b0ff50"/>
<circle cx="296.5" cy="328.5" r="1.5" stroke-width="1.15" stroke="#f2f000"/>
<path d="M356.0 369.5h5M358.5 367.0v5" stroke="#80ff80"/>
<path d="M323.0 330.5h5M325.5 328.0v5" stroke="#40ffc0"/>
<circle cx="417.5" cy="335.5" r="1.5" stroke-width="1.15" stroke="#b0ff50"/>
<circle cx="486.5" cy="333.5" r="1.5" stroke-width="1.15" stroke="#b0ff50"/>
<circle cx="294.5" cy="326.5" r="1.5" stroke-width="1.15" stroke="#b0ff50"/>
<circle cx="374.5" cy="323.5" r="1.5" stroke-width="1.15" stroke="#f2f000"/>
<circle cx="442.5" cy="338.5" r="1.5" stroke-width="1.15" stroke="#b0ff50"/>
<path d="M372.0 335.5h5M374.5 333.0v5" stroke="#00ffff"/>
<path d="M350.0 310.5h5M352.5 308.0v5" stroke="#40ffc0"/>
<circle cx="435.5" cy="318.5" r="1.5" stroke-width="1.15" stroke="#b0ff50"/>
<path d="M387.0 315.5h5M389.5 313.0v5" stroke="#00ffff"/>
<circle cx="360.5" cy="318.5" r="1.5" stroke-width="1.15" stroke="#f2f000"/>
<path d="M322.0 330.5h5M324.5 328.0v5" stroke="#40ffc0"/>
<path d="M353.0 336.5h5M355.5 334.0v5" stroke="#40ffc0"/>
<circle cx="435.5" cy="342.5" r="1.5" stroke-width="1.15" stroke="#f2f000"/>
<circle cx="343.5" cy="332.5" r="1.5" stroke-width="1.15" stroke="#b0ff50"/>
<path d="M411.0 317.5h5M413.5 315.0v5" stroke="#40ffc0"/>
<path d="M221.0 320.5h5M223.5 318.0v5" stroke="#00ffff"/>
<path d="M297.0 318.5h5M299.5 316.0v5" stroke="#00ffff"/>
<path d="M371.0 330.5h5M373.5 328.0v5" stroke="#00ffff"/>
<circle cx="483.5" cy="323.5" r="1.5" stroke-width="1.15" stroke="#f2f000"/>
<path d="M417.0 365.5h5M419.5 363.0v5" stroke="#40ffc0"/>
<path d="M293.0 327.5h5M295.5 325.0v5" stroke="#80ff80"/>
<path d="M353.0 323.5h5M355.5 321.0v5" stroke="#40ffc0"/>
<path d="M341.0 324.5h5M343.5 322.0v5" stroke="#40ffc0"/>
<path d="M410.0 313.5h5M412.5 311.0v5" stroke="#40ffc0"/>
<path d="M315.0 329.5h5M317.5 327.0v5" stroke="#40ffc0"/>
<path d="M365.0 321.5h5M367.5 319.0v5" stroke="#00ffff"/>
<path d="M425.0 330.5h5M427.5 328.0v5" stroke="#40ffc0"/>
<circle cx="481.5" cy="321.5" r="1.5" stroke-width="1.15" stroke="#ffe400"/>
<path d="M345.0 327.5h5M347.5 325.0v5" stroke="#40ffc0"/>
<path d="M311.0 327.5h5M313.5 325.0v5" stroke="#40ffc0"/>
<path d="M318.0 329.5h5M320.5 327.0v5" stroke="#00ffff"/>
<circle cx="452.5" cy="338.5" r="1.5" stroke-width="1.15" stroke="#b0ff50"/>
<path d="M352.0 336.5h5M354.5 334.0v5" stroke="#40ffc0"/>
<circle cx="329.5" cy="293.5" r="1.5" stroke-width="1.15" stroke="#b0ff50"/>
<path d="M331.0 335.5h5M333.5 333.0v5" stroke="#40ffc0"/>
<path d="M213.0 317.5h5M215.5 315.0v5" stroke="#80ff80"/>
<path d="M295.0 330.5h5M297.5 328.0v5" stroke="#00ffff"/>
<path d="M292.0 324.5h5M294.5 322.0v5" stroke="#00ffff"/>
<path d="M298.0 334.5h5M300.5 332.0v5" stroke="#40ffc0"/>
<path d="M221.0 337.5h5M223.5 335.0v5" stroke="#80ff80"/>
<path d="M355.0 334.5h5M357.5 332.0v5" stroke="#40ffc0"/>
<circle cx="348.5" cy="324.5" r="1.5" stroke-width="1.15" stroke="#b0ff50"/>
<path d="M217.0 321.5h5M219.5 319.0v5" stroke="#80ff80"/>
<path d="M391.0 357.5h5M393.5 355.0v5" stroke="#40ffc0"/>
<path d="M354.0 350.5h5M356.5 348.0v5" stroke="#40ffc0"/>
<path d="M361.0 326.5h5M363.5 324.0v5" stroke="#40ffc0"/>
<circle cx="435.5" cy="344.5" r="1.5" stroke-width="1.15" stroke="#b0ff50"/>
<circle cx="451.5" cy="326.5" r="1.5" stroke-width="1.15" stroke="#f2f000"/>
<path d="M250.0 330.5h5M252.5 328.0v5" stroke="#00ffff"/>
<path d="M333.0 316.5h5M335.5 314.0v5" stroke="#00ffff"/>
<circle cx="237.5" cy="293.5" r="1.5" stroke-width="1.15" stroke="#b0ff50"/>
<path d="M270.0 326.5h5M272.5 324.0v5" stroke="#00ffff"/>
<path d="M300.0 325.5h5M302.5 323.0v5" stroke="#40ffc0"/>
<path d="M314.0 323.5h5M316.5 321.0v5" stroke="#40ffc0"/>
<circle cx="308.5" cy="346.5" r="1.5" stroke-width="1.15" stroke="#b0ff50"/>
<circle cx="452.5" cy="322.5" r="1.5" stroke-width="1.15" stroke="#ffe400"/>
<circle cx="354.5" cy="330.5" r="1.5" stroke-width="1.15" stroke="#f2f000"/>
<circle cx="452.5" cy="324.5" r="1.5" stroke-width="1.15" stroke="#f2f000"/>
<circle cx="378.5" cy="330.5" r="1.5" stroke-width="1.15" stroke="#b0ff50"/>
<circle cx="486.5" cy="330.5" r="1.5" stroke-width="1.15" stroke="#f2f000"/>
<path d="M316.0 315.5h5M318.5 313.0v5" stroke="#40ffc0"/>
<path d="M289.0 335.5h5M291.5 333.0v5" stroke="#40ffc0"/>
<circle cx="378.5" cy="328.5" r="1.5" stroke-width="1.15" stroke="#b0ff50"/>
<circle cx="122.5" cy="312.5" r="1.5" stroke-width="1.15" stroke="#b0ff50"/>
<path d="M323.0 329.5h5M325.5 327.0v5" stroke="#40ffc0"/>
<path d="M195.0 309.5h5M197.5 307.0v5" stroke="#80ff80"/>
<circle cx="312.5" cy="321.5" r="1.5" stroke-width="1.15" stroke="#b0ff50"/>
<circle cx="407.5" cy="321.5" r="1.5" stroke-width="1.15" stroke="#b0ff50"/>
<circle cx="425.5" cy="336.5" r="1.5" stroke-width="1.15" stroke="#f2f000"/>
<path d="M248.0 347.5h5M250.5 345.0v5" stroke="#80ff80"/>
<circle cx="467.5" cy="340.5" r="1.5" stroke-width="1.15" stroke="#f2f000"/>
<path d="M237.0 314.5h5M239.5 312.0v5" stroke="#80ff80"/>
<path d="M338.0 336.5h5M340.5 334.0v5" stroke="#00ffff"/>
<path d="M382.0 336.5h5M384.5 334.0v5" stroke="#40ffc0"/>
<path d="M531.0 341.5h5M533.5 339.0v5" stroke="#00ffff"/>
<path d="M346.0 328.5h5M348.5 326.0v5" stroke="#40ffc0"/>
<path d="M190.0 327.5h5M192.5 325.0v5" stroke="#40ffc0"/>
<circle cx="322.5" cy="329.5" r="1.5" stroke-width="1.15" stroke="#b0ff50"/>
<circle cx="462.5" cy="330.5" r="1.5" stroke-width="1.15" stroke="#b0ff50"/>
<path d="M396.0 315.5h5M398.5 313.0v5" stroke="#00ffff"/>
<circle cx="331.5" cy="325.5" r="1.5" stroke-width="1.15" stroke="#b0ff50"/>
<path d="M371.0 319.5h5M373.5 317.0v5" stroke="#40ffc0"/>
<path d="M339.0 329.5h5M341.5 327.0v5" stroke="#40ffc0"/>
<circle cx="259.5" cy="319.5" r="1.5" stroke-width="1.15" stroke="#b0ff50"/>
<path d="M380.0 336.5h5M382.5 334.0v5" stroke="#40ffc0"/>
<path d="M281.0 332.5h5M283.5 330.0v5" stroke="#00ffff"/>
<path d="M208.0 323.5h5M210.5 321.0v5" stroke="#00ffff"/>
<circle cx="292.5" cy="328.5" r="1.5" stroke-width="1.15" stroke="#f2f000"/>
<path d="M151.0 308.5h5M153.5 306.0v5" stroke="#00ffff"/>
<circle cx="461.5" cy="323.5" r="1.5" stroke-width="1.15" stroke="#b0ff50"/>
<path d="M294.0 336.5h5M296.5 334.0v5" stroke="#40ffc0"/>
<circle cx="466.5" cy="340.5" r="1.5" stroke-width="1.15" stroke="#f2f000"/>
<path d="M386.0 333.5h5M388.5 331.0v5" stroke="#40ffc0"/>
<circle cx="463.5" cy="324.5" r="1.5" stroke-width="1.15" stroke="#b0ff50"/>
<circle cx="429.5" cy="324.5" r="1.5" stroke-width="1.15" stroke="#b0ff50"/>
<path d="M354.0 323.5h5M356.5 321.0v5" stroke="#40ffc0"/>
<path d="M312.0 340.5h5M314.5 338.0v5" stroke="#00ffff"/>
<path d="M188.0 308.5h5M190.5 306.0v5" stroke="#40ffc0"/>
<path d="M353.0 318.5h5M355.5 316.0v5" stroke="#40ffc0"/>
<path d="M328.0 340.5h5M330.5 338.0v5" stroke="#40ffc0"/>
<circle cx="235.5" cy="328.5" r="1.5" stroke-width="1.15" stroke="#b0ff50"/>
<circle cx="476.5" cy="327.5" r="1.5" stroke-width="1.15" stroke="#b0ff50"/>
<path d="M337.0 338.5h5M339.5 336.0v5" stroke="#40ffc0"/>
<circle cx="335.5" cy="338.5" r="1.5" stroke-width="1.15" stroke="#b0ff50"/>
<circle cx="474.5" cy="320.5" r="1.5" stroke-width="1.15" stroke="#b0ff50"/>
<circle cx="446.5" cy="316.5" r="1.5" stroke-width="1.15" stroke="#b0ff50"/>
<path d="M346.0 333.5h5M348.5 331.0v5" stroke="#40ffc0"/>
<path d="M368.0 319.5h5M370.5 317.0v5" stroke="#40ffc0"/>
<path d="M390.0 330.5h5M392.5 328.0v5" stroke="#40ffc0"/>
<path d="M322.0 331.5h5M324.5 329.0v5" stroke="#00ffff"/>
<circle cx="539.5" cy="331.5" r="1.5" stroke-width="1.15" stroke="#b0ff50"/>
<path d="M338.0 339.5h5M340.5 337.0v5" stroke="#40ffc0"/>
<path d="M297.0 346.5h5M299.5 344.0v5" stroke="#40ffc0"/>
<path d="M295.0 332.5h5M297.5 330.0v5" stroke="#40ffc0"/>
<circle cx="456.5" cy="354.5" r="1.5" stroke-width="1.15" stroke="#f2f000"/>
<circle cx="467.5" cy="335.5" r="1.5" stroke-width="1.15" stroke="#b0ff50"/>
<path d="M311.0 340.5h5M313.5 338.0v5" stroke="#80ff80"/>
<path d="M361.0 330.5h5M363.5 328.0v5" stroke="#80ff80"/>
<circle cx="415.5" cy="334.5" r="1.5" stroke-width="1.15" stroke="#f2f000"/>
<path d="M284.0 331.5h5M286.5 329.0v5" stroke="#40ffc0"/>
<path d="M387.0 365.5h5M389.5 363.0v5" stroke="#40ffc0"/>
<path d="M338.0 320.5h5M340.5 318.0v5" stroke="#00ffff"/>
<circle cx="465.5" cy="335.5" r="1.5" stroke-width="1.15" stroke="#b0ff50"/>
<path d="M364.0 313.5h5M366.5 311.0v5" stroke="#80ff80"/>
<circle cx="464.5" cy="340.5" r="1.5" stroke-width="1.15" stroke="#f2f000"/>
<circle cx="442.5" cy="332.5" r="1.5" stroke-width="1.15" stroke="#b0ff50"/>
<path d="M322.0 310.5h5M324.5 308.0v5" stroke="#40ffc0"/>
<path d="M299.0 330.5h5M301.5 328.0v5" stroke="#40ffc0"/>
<path d="M215.0 312.5h5M217.5 310.0v5" stroke="#40ffc0"/>
<path d="M274.0 315.5h5M276.5 313.0v5" stroke="#40ffc0"/>
<path d="M299.0 361.5h5M301.5 359.0v5" stroke="#40ffc0"/>
<circle cx="466.5" cy="331.5" r="1.5" stroke-width="1.15" stroke="#f2f000"/>
<path d="M257.0 338.5h5M259.5 336.0v5" stroke="#40ffc0"/>
<path d="M325.0 338.5h5M327.5 336.0v5" stroke="#40ffc0"/>
<path d="M287.0 343.5h5M289.5 341.0v5" stroke="#40ffc0"/>
<path d="M319.0 322.5h5M321.5 320.0v5" stroke="#40ffc0"/>
<path d="M299.0 325.5h5M301.5 323.0v5" stroke="#80ff80"/>
<path d="M365.0 327.5h5M367.5 325.0v5" stroke="#00ffff"/>
<circle cx="470.5" cy="331.5" r="1.5" stroke-width="1.15" stroke="#b0ff50"/>
<circle cx="316.5" cy="346.5" r="1.5" stroke-width="1.15" stroke="#b0ff50"/>
<path d="M321.0 322.5h5M323.5 320.0v5" stroke="#40ffc0"/>
<circle cx="355.5" cy="343.5" r="1.5" stroke-width="1.15" stroke="#b0ff50"/>
<path d="M330.0 334.5h5M332.5 332.0v5" stroke="#40ffc0"/>
<circle cx="439.5" cy="332.5" r="1.5" stroke-width="1.15" stroke="#f2f000"/>
<circle cx="445.5" cy="324.5" r="1.5" stroke-width="1.15" stroke="#b0ff50"/>
<circle cx="407.5" cy="331.5" r="1.5" stroke-width="1.15" stroke="#b0ff50"/>
<circle cx="455.5" cy="317.5" r="1.5" stroke-width="1.15" stroke="#b0ff50"/>
<circle cx="414.5" cy="332.5" r="1.5" stroke-width="1.15" stroke="#b0ff50"/>
<path d="M255.0 313.5h5M257.5 311.0v5" stroke="#80ff80"/>
<path d="M335.0 334.5h5M337.5 332.0v5" stroke="#00ffff"/>
<circle cx="452.5" cy="315.5" r="1.5" stroke-width="1.15" stroke="#b0ff50"/>
<path d="M359.0 318.5h5M361.5 316.0v5" stroke="#40ffc0"/>
<path d="M339.0 331.5h5M341.5 329.0v5" stroke="#40ffc0"/>
<circle cx="447.5" cy="359.5" r="1.5" stroke-width="1.15" stroke="#b0ff50"/>
<path d="M275.0 328.5h5M277.5 326.0v5" stroke="#00ffff"/>
<circle cx="288.5" cy="337.5" r="1.5" stroke-width="1.15" stroke="#b0ff50"/>
<path d="M305.0 308.5h5M307.5 306.0v5" stroke="#40ffc0"/>
<circle cx="478.5" cy="334.5" r="1.5" stroke-width="1.15" stroke="#b0ff50"/>
<path d="M250.0 321.5h5M252.5 319.0v5" stroke="#00ffff"/>
<circle cx="407.5" cy="328.5" r="1.5" stroke-width="1.15" stroke="#b0ff50"/>
<circle cx="444.5" cy="338.5" r="1.5" stroke-width="1.15" stroke="#f2f000"/>
<circle cx="370.5" cy="335.5" r="1.5" stroke-width="1.15" stroke="#b0ff50"/>
<circle cx="441.5" cy="335.5" r="1.5" stroke-width="1.15" stroke="#f2f000"/>
<path d="M395.0 322.5h5M397.5 320.0v5" stroke="#00ffff"/>
<path d="M325.0 326.5h5M327.5 324.0v5" stroke="#40ffc0"/>
<circle cx="447.5" cy="331.5" r="1.5" stroke-width="1.15" stroke="#f2f000"/>
<circle cx="449.5" cy="335.5" r="1.5" stroke-width="1.15" stroke="#b0ff50"/>
<path d="M256.0 305.5h5M258.5 303.0v5" stroke="#00ffff"/>
<circle cx="301.5" cy="332.5" r="1.5" stroke-width="1.15" stroke="#b0ff50"/>
<path d="M360.0 331.5h5M362.5 329.0v5" stroke="#40ffc0"/>
<path d="M308.0 338.5h5M310.5 336.0v5" stroke="#40ffc0"/>
<path d="M191.0 313.5h5M193.5 311.0v5" stroke="#00ffff"/>
<circle cx="256.5" cy="323.5" r="1.5" stroke-width="1.15" stroke="#b0ff50"/>
<circle cx="430.5" cy="333.5" r="1.5" stroke-width="1.15" stroke="#b0ff50"/>
<circle cx="425.5" cy="341.5" r="1.5" stroke-width="1.15" stroke="#f2f000"/>
<path d="M396.0 330.5h5M398.5 328.0v5" stroke="#40ffc0"/>
<path d="M370.0 338.5h5M372.5 336.0v5" stroke="#40ffc0"/>
<path d="M257.0 310.5h5M259.5 308.0v5" stroke="#00ffff"/>
<circle cx="279.5" cy="321.5" r="1.5" stroke-width="1.15" stroke="#f2f000"/>
<path d="M329.0 330.5h5M331.5 328.0v5" stroke="#00ffff"/>
<path d="M309.0 335.5h5M311.5 333.0v5" stroke="#40ffc0"/>
<path d="M337.0 335.5h5M339.5 333.0v5" stroke="#40ffc0"/>
<path d="M337.0 323.5h5M339.5 321.0v5" stroke="#00ffff"/>
<circle cx="431.5" cy="337.5" r="1.5" stroke-width="1.15" stroke="#f2f000"/>
<circle cx="464.5" cy="343.5" r="1.5" stroke-width="1.15" stroke="#b0ff50"/>
<circle cx="315.5" cy="335.5" r="1.5" stroke-width="1.15" stroke="#f2f000"/>
<path d="M344.0 321.5h5M346.5 319.0v5" stroke="#40ffc0"/>
<circle cx="308.5" cy="324.5" r="1.5" stroke-width="1.15" stroke="#b0ff50"/>
<path d="M398.0 329.5h5M400.5 327.0v5" stroke="#40ffc0"/>
<circle cx="348.5" cy="326.5" r="1.5" stroke-width="1.15" stroke="#f2f000"/>
<path d="M301.0 334.5h5M303.5 332.0v5" stroke="#40ffc0"/>
<path d="M315.0 317.5h5M317.5 315.0v5" stroke="#40ffc0"/>
<path d="M152.0 344.5h5M154.5 342.0v5" stroke="#80ff80"/>
<path d="M307.0 325.5h5M309.5 323.0v5" stroke="#40ffc0"/>
<path d="M316.0 336.5h5M318.5 334.0v5" stroke="#00ffff"/>
<path d="M458.0 341.5h5M460.5 339.0v5" stroke="#40ffc0"/>
<path d="M299.0 330.5h5M301.5 328.0v5" stroke="#40ffc0"/>
<circle cx="447.5" cy="353.5" r="1.5" stroke-width="1.15" stroke="#b0ff50"/>
<path d="M297.0 326.5h5M299.5 324.0v5" stroke="#00ffff"/>
<path d="M328.0 328.5h5M330.5 326.0v5" stroke="#40ffc0"/>
<path d="M371.0 324.5h5M373.5 322.0v5" stroke="#00ffff"/>
<path d="M265.0 312.5h5M267.5 310.0v5" stroke="#00c0ff"/>
<path d="M325.0 335.5h5M327.5 333.0v5" stroke="#40ffc0"/>
<circle cx="478.5" cy="318.5" r="1.5" stroke-width="1.15" stroke="#f2f000"/>
<path d="M301.0 317.5h5M303.5 315.0v5" stroke="#80ff80"/>
<path d="M300.0 318.5h5M302.5 316.0v5" stroke="#40ffc0"/>
<path d="M321.0 335.5h5M323.5 333.0v5" stroke="#40ffc0"/>
<path d="M337.0 321.5h5M339.5 319.0v5" stroke="#00ffff"/>
<circle cx="379.5" cy="332.5" r="1.5" stroke-width="1.15" stroke="#f2f000"/>
<path d="M313.0 331.5h5M315.5 329.0v5" stroke="#40ffc0"/>
<path d="M133.0 327.5h5M135.5 325.0v5" stroke="#80ff80"/>
<path d="M360.0 336.5h5M362.5 334.0v5" stroke="#40ffc0"/>
<path d="M231.0 359.5h5M233.5 357.0v5" stroke="#80ff80"/>
<path d="M385.0 337.5h5M387.5 335.0v5" stroke="#00ffff"/>
<path d="M330.0 318.5h5M332.5 316.0v5" stroke="#00ffff"/>
<circle cx="310.5" cy="321.5" r="1.5" stroke-width="1.15" stroke="#b0ff50"/>
<path d="M355.0 320.5h5M357.5 318.0v5" stroke="#40ffc0"/>
<path d="M336.0 327.5h5M338.5 325.0v5" stroke="#00ffff"/>
<circle cx="343.5" cy="327.5" r="1.5" stroke-width="1.15" stroke="#b0ff50"/>
<path d="M355.0 381.5h5M357.5 379.0v5" stroke="#00c0ff"/>
<circle cx="381.5" cy="318.5" r="1.5" stroke-width="1.15" stroke="#b0ff50"/>
<circle cx="300.5" cy="328.5" r="1.5" stroke-width="1.15" stroke="#b0ff50"/>
<path d="M357.0 325.5h5M359.5 323.0v5" stroke="#40ffc0"/>
<path d="M393.0 342.5h5M395.5 340.0v5" stroke="#00ffff"/>
<path d="M260.0 320.5h5M262.5 318.0v5" stroke="#00ffff"/>
<path d="M352.0 322.5h5M354.5 320.0v5" stroke="#00ffff"/>
<circle cx="294.5" cy="333.5" r="1.5" stroke-width="1.15" stroke="#b0ff50"/>
<circle cx="326.5" cy="292.5" r="1.5" stroke-width="1.15" stroke="#b0ff50"/>
<circle cx="352.5" cy="320.5" r="1.5" stroke-width="1.15" stroke="#b0ff50"/>
<circle cx="274.5" cy="305.5" r="1.5" stroke-width="1.15" stroke="#b0ff50"/>
<path d="M310.0 357.5h5M312.5 355.0v5" stroke="#00ffff"/>
<circle cx="435.5" cy="332.5" r="1.5" stroke-width="1.15" stroke="#b0ff50"/>
<path d="M356.0 345.5h5M358.5 343.0v5" stroke="#40ffc0"/>
<path d="M361.0 334.5h5M363.5 332.0v5" stroke="#00ffff"/>
<path d="M366.0 331.5h5M368.5 329.0v5" stroke="#40ffc0"/>
<path d="M240.0 327.5h5M242.5 325.0v5" stroke="#00ffff"/>
<circle cx="416.5" cy="342.5" r="1.5" stroke-width="1.15" stroke="#b0ff50"/>
<circle cx="368.5" cy="336.5" r="1.5" stroke-width="1.15" stroke="#b0ff50"/>
<circle cx="324.5" cy="331.5" r="1.5" stroke-width="1.15" stroke="#f2f000"/>
<circle cx="457.5" cy="339.5" r="1.5" stroke-width="1.15" stroke="#b0ff50"/>
<path d="M384.0 322.5h5M386.5 320.0v5" stroke="#00ffff"/>
<circle cx="463.5" cy="329.5" r="1.5" stroke-width="1.15" stroke="#f2f000"/>
<path d="M329.0 307.5h5M331.5 305.0v5" stroke="#00ffff"/>
<path d="M262.0 334.5h5M264.5 332.0v5" stroke="#40ffc0"/>
<circle cx="491.5" cy="323.5" r="1.5" stroke-width="1.15" stroke="#b0ff50"/>
<circle cx="351.5" cy="336.5" r="1.5" stroke-width="1.15" stroke="#b0ff50"/>
<circle cx="323.5" cy="322.5" r="1.5" stroke-width="1.15" stroke="#b0ff50"/>
<path d="M254.0 319.5h5M256.5 317.0v5" stroke="#00ffff"/>
<path d="M362.0 325.5h5M364.5 323.0v5" stroke="#40ffc0"/>
<path d="M314.0 317.5h5M316.5 315.0v5" stroke="#40ffc0"/>
<path d="M350.0 329.5h5M352.5 327.0v5" stroke="#40ffc0"/>
<path d="M525.0 342.5h5M527.5 340.0v5" stroke="#00ffff"/>
<circle cx="304.5" cy="334.5" r="1.5" stroke-width="1.15" stroke="#b0ff50"/>
<path d="M245.0 317.5h5M247.5 315.0v5" stroke="#40ffc0"/>
<path d="M294.0 346.5h5M296.5 344.0v5" stroke="#40ffc0"/>
<circle cx="298.5" cy="325.5" r="1.5" stroke-width="1.15" stroke="#f2f000"/>
<circle cx="452.5" cy="322.5" r="1.5" stroke-width="1.15" stroke="#b0ff50"/>
<circle cx="282.5" cy="327.5" r="1.5" stroke-width="1.15" stroke="#b0ff50"/>
<path d="M306.0 341.5h5M308.5 339.0v5" stroke="#40ffc0"/>
<circle cx="345.5" cy="342.5" r="1.5" stroke-width="1.15" stroke="#b0ff50"/>
<circle cx="322.5" cy="317.5" r="1.5" stroke-width="1.15" stroke="#b0ff50"/>
<circle cx="379.5" cy="333.5" r="1.5" stroke-width="1.15" stroke="#b0ff50"/>
<path d="M371.0 326.5h5M373.5 324.0v5" stroke="#40ffc0"/>
<circle cx="420.5" cy="326.5" r="1.5" stroke-width="1.15" stroke="#b0ff50"/>
<circle cx="290.5" cy="340.5" r="1.5" stroke-width="1.15" stroke="#b0ff50"/>
<path d="M310.0 338.5h5M312.5 336.0v5" stroke="#40ffc0"/>
<circle cx="284.5" cy="328.5" r="1.5" stroke-width="1.15" stroke="#b0ff50"/>
<path d="M277.0 316.5h5M279.5 314.0v5" stroke="#00ffff"/>
<path d="M365.0 329.5h5M367.5 327.0v5" stroke="#40ffc0"/>
<path d="M320.0 332.5h5M322.5 330.0v5" stroke="#40ffc0"/>
<circle cx="331.5" cy="332.5" r="1.5" stroke-width="1.15" stroke="#b0ff50"/>
<path d="M293.0 331.5h5M295.5 329.0v5" stroke="#40ffc0"/>
<path d="M334.0 332.5h5M336.5 330.0v5" stroke="#40ffc0"/>
<circle cx="363.5" cy="332.5" r="1.5" stroke-width="1.15" stroke="#b0ff50"/>
<path d="M350.0 344.5h5M352.5 342.0v5" stroke="#40ffc0"/>
<path d="M477.0 341.5h5M479.5 339.0v5" stroke="#40ffc0"/>
<circle cx="446.5" cy="339.5" r="1.5" stroke-width="1.15" stroke="#b0ff50"/>
<path d="M226.0 311.5h5M228.5 309.0v5" stroke="#00ffff"/>
<circle cx="512.5" cy="344.5" r="1.5" stroke-width="1.15" stroke="#b0ff50"/>
<path d="M255.0 359.5h5M257.5 357.0v5" stroke="#00ffff"/>
<path d="M301.0 327.5h5M303.5 325.0v5" stroke="#40ffc0"/>
<path d="M367.0 337.5h5M369.5 335.0v5" stroke="#00ffff"/>
<circle cx="426.5" cy="323.5" r="1.5" stroke-width="1.15" stroke="#b0ff50"/>
<path d="M282.0 317.5h5M284.5 315.0v5" stroke="#00ffff"/>
<circle cx="480.5" cy="325.5" r="1.5" stroke-width="1.15" stroke="#f2f000"/>
<path d="M458.0 349.5h5M460.5 347.0v5" stroke="#40ffc0"/>
<path d="M384.0 314.5h5M386.5 312.0v5" stroke="#40ffc0"/>
<circle cx="355.5" cy="306.5" r="1.5" stroke-width="1.15" stroke="#f2f000"/>
<circle cx="426.5" cy="318.5" r="1.5" stroke-width="1.15" stroke="#b0ff50"/>
<path d="M209.0 312.5h5M211.5 310.0v5" stroke="#00ffff"/>
<circle cx="486.5" cy="316.5" r="1.5" stroke-width="1.15" stroke="#b0ff50"/>
<path d="M370.0 328.5h5M372.5 326.0v5" stroke="#00ffff"/>
<path d="M329.0 329.5h5M331.5 327.0v5" stroke="#40ffc0"/>
<path d="M310.0 333.5h5M312.5 331.0v5" stroke="#40ffc0"/>
<path d="M383.0 317.5h5M385.5 315.0v5" stroke="#00ffff"/>
<path d="M365.0 315.5h5M367.5 313.0v5" stroke="#40ffc0"/>
<path d="M338.0 336.5h5M340.5 334.0v5" stroke="#40ffc0"/>
<circle cx="420.5" cy="323.5" r="1.5" stroke-width="1.15" stroke="#b0ff50"/>
<circle cx="460.5" cy="330.5" r="1.5" stroke-width="1.15" stroke="#f2f000"/>
<circle cx="506.5" cy="331.5" r="1.5" stroke-width="1.15" stroke="#f2f000"/>
<path d="M333.0 330.5h5M335.5 328.0v5" stroke="#40ffc0"/>
<path d="M240.0 315.5h5M242.5 313.0v5" stroke="#00ffff"/>
<circle cx="443.5" cy="323.5" r="1.5" stroke-width="1.15" stroke="#b0ff50"/>
<path d="M258.0 305.5h5M260.5 303.0v5" stroke="#00ffff"/>
<path d="M354.0 339.5h5M356.5 337.0v5" stroke="#40ffc0"/>
<path d="M276.0 311.5h5M278.5 309.0v5" stroke="#80ff80"/>
<path d="M327.0 327.5h5M329.5 325.0v5" stroke="#40ffc0"/>
<circle cx="364.5" cy="324.5" r="1.5" stroke-width="1.15" stroke="#b0ff50"/>
<circle cx="322.5" cy="340.5" r="1.5" stroke-width="1.15" stroke="#b0ff50"/>
<path d="M291.0 322.5h5M293.5 320.0v5" stroke="#40ffc0"/>
<path d="M352.0 323.5h5M354.5 321.0v5" stroke="#40ffc0"/>
<circle cx="417.5" cy="334.5" r="1.5" stroke-width="1.15" stroke="#b0ff50"/>
<path d="M356.0 330.5h5M358.5 328.0v5" stroke="#40ffc0"/>
<path d="M244.0 270.5h5M246.5 268.0v5" stroke="#80ff80"/>
<circle cx="346.5" cy="352.5" r="1.5" stroke-width="1.15" stroke="#b0ff50"/>
<path d="M307.0 323.5h5M309.5 321.0v5" stroke="#40ffc0"/>
<path d="M380.0 328.5h5M382.5 326.0v5" stroke="#00ffff"/>
<circle cx="418.5" cy="340.5" r="1.5" stroke-width="1.15" stroke="#b0ff50"/>
<path d="M299.0 335.5h5M301.5 333.0v5" stroke="#00ffff"/>
<path d="M309.0 324.5h5M311.5 322.0v5" stroke="#40ffc0"/>
<path d="M390.0 318.5h5M392.5 316.0v5" stroke="#40ffc0"/>
<path d="M367.0 334.5h5M369.5 332.0v5" stroke="#00ffff"/>
<path d="M389.0 364.5h5M391.5 362.0v5" stroke="#00ffff"/>
<circle cx="245.5" cy="298.5" r="1.5" stroke-width="1.15" stroke="#b0ff50"/>
<circle cx="452.5" cy="333.5" r="1.5" stroke-width="1.15" stroke="#b0ff50"/>
<circle cx="337.5" cy="331.5" r="1.5" stroke-width="1.15" stroke="#b0ff50"/>
<path d="M119.0 295.5h5M121.5 293.0v5" stroke="#00ffff"/>
<path d="M379.0 349.5h5M381.5 347.0v5" stroke="#40ffc0"/>
<path d="M297.0 322.5h5M299.5 320.0v5" stroke="#00ffff"/>
<circle cx="325.5" cy="311.5" r="1.5" stroke-width="1.15" stroke="#f2f000"/>
<circle cx="352.5" cy="344.5" r="1.5" stroke-width="1.15" stroke="#b0ff50"/>
<circle cx="477.5" cy="325.5" r="1.5" stroke-width="1.15" stroke="#f2f000"/>
<path d="M294.0 333.5h5M296.5 331.0v5" stroke="#00ffff"/>
<path d="M310.0 317.5h5M312.5 315.0v5" stroke="#40ffc0"/>
<path d="M256.0 323.5h5M258.5 321.0v5" stroke="#40ffc0"/>
<circle cx="321.5" cy="338.5" r="1.5" stroke-width="1.15" stroke="#f2f000"/>
<path d="M351.0 299.5h5M353.5 297.0v5" stroke="#40ffc0"/>
<path d="M210.0 340.5h5M212.5 338.0v5" stroke="#00ffff"/>
<path d="M380.0 353.5h5M382.5 351.0v5" stroke="#40ffc0"/>
<path d="M315.0 341.5h5M317.5 339.0v5" stroke="#40ffc0"/>
<path d="M160.0 324.5h5M162.5 322.0v5" stroke="#00ffff"/>
<path d="M346.0 333.5h5M348.5 331.0v5" stroke="#40ffc0"/>
<path d="M220.0 325.5h5M222.5 323.0v5" stroke="#00ffff"/>
<path d="M317.0 329.5h5M319.5 327.0v5" stroke="#40ffc0"/>
<path d="M313.0 325.5h5M315.5 323.0v5" stroke="#80ff80"/>
<circle cx="502.5" cy="336.5" r="1.5" stroke-width="1.15" stroke="#b0ff50"/>
<path d="M365.0 340.5h5M367.5 338.0v5" stroke="#00ffff"/>
<circle cx="457.5" cy="328.5" r="1.5" stroke-width="1.15" stroke="#f2f000"/>
<circle cx="288.5" cy="291.5" r="1.5" stroke-width="1.15" stroke="#b0ff50"/>
<circle cx="313.5" cy="342.5" r="1.5" stroke-width="1.15" stroke="#b0ff50"/>
<path d="M329.0 336.5h5M331.5 334.0v5" stroke="#40ffc0"/>
<path d="M337.0 331.5h5M339.5 329.0v5" stroke="#40ffc0"/>
<circle cx="452.5" cy="339.5" r="1.5" stroke-width="1.15" stroke="#b0ff50"/>
<circle cx="337.5" cy="344.5" r="1.5" stroke-width="1.15" stroke="#b0ff50"/>
<circle cx="393.5" cy="349.5" r="1.5" stroke-width="1.15" stroke="#b0ff50"/>
<path d="M82.0 321.5h5M84.5 319.0v5" stroke="#00ffff"/>
<circle cx="380.5" cy="322.5" r="1.5" stroke-width="1.15" stroke="#b0ff50"/>
<path d="M366.0 319.5h5M368.5 317.0v5" stroke="#40ffc0"/>
<path d="M337.0 329.5h5M339.5 327.0v5" stroke="#40ffc0"/>
<path d="M206.0 328.5h5M208.5 326.0v5" stroke="#80ff80"/>
<path d="M374.0 316.5h5M376.5 314.0v5" stroke="#40ffc0"/>
<path d="M356.0 318.5h5M358.5 316.0v5" stroke="#40ffc0"/>
<path d="M320.0 326.5h5M322.5 324.0v5" stroke="#00ffff"/>
<circle cx="348.5" cy="340.5" r="1.5" stroke-width="1.15" stroke="#b0ff50"/>
<path d="M81.0 338.5h5M83.5 336.0v5" stroke="#80ff80"/>
<path d="M315.0 333.5h5M317.5 331.0v5" stroke="#00ffff"/>
<circle cx="386.5" cy="321.5" r="1.5" stroke-width="1.15" stroke="#b0ff50"/>
<path d="M353.0 324.5h5M355.5 322.0v5" stroke="#80ff80"/>
<circle cx="299.5" cy="313.5" r="1.5" stroke-width="1.15" stroke="#b0ff50"/>
<circle cx="446.5" cy="338.5" r="1.5" stroke-width="1.15" stroke="#b0ff50"/>
<circle cx="354.5" cy="334.5" r="1.5" stroke-width="1.15" stroke="#b0ff50"/>
<circle cx="413.5" cy="322.5" r="1.5" stroke-width="1.15" stroke="#b0ff50"/>
<path d="M376.0 332.5h5M378.5 330.0v5" stroke="#40ffc0"/>
<path d="M333.0 410.5h5M335.5 408.0v5" stroke="#40ffc0"/>
<circle cx="477.5" cy="300.5" r="1.5" stroke-width="1.15" stroke="#b0ff50"/>
<path d="M466.0 332.5h5M468.5 330.0v5" stroke="#40ffc0"/>
<circle cx="338.5" cy="334.5" r="1.5" stroke-width="1.15" stroke="#b0ff50"/>
<path d="M229.0 324.5h5M231.5 322.0v5" stroke="#00ffff"/>
<path d="M317.0 326.5h5M319.5 324.0v5" stroke="#00ffff"/>
<path d="M330.0 326.5h5M332.5 324.0v5" stroke="#80ff80"/>
<path d="M326.0 308.5h5M328.5 306.0v5" stroke="#00ffff"/>
<path d="M238.0 326.5h5M240.5 324.0v5" stroke="#40ffc0"/>
<circle cx="373.5" cy="329.5" r="1.5" stroke-width="1.15" stroke="#b0ff50"/>
<path d="M270.0 316.5h5M272.5 314.0v5" stroke="#00ffff"/>
<circle cx="430.5" cy="337.5" r="1.5" stroke-width="1.15" stroke="#b0ff50"/>
<circle cx="420.5" cy="332.5" r="1.5" stroke-width="1.15" stroke="#b0ff50"/>
<path d="M327.0 329.5h5M329.5 327.0v5" stroke="#40ffc0"/>
<path d="M386.0 335.5h5M388.5 333.0v5" stroke="#40ffc0"/>
<path d="M306.0 330.5h5M308.5 328.0v5" stroke="#00ffff"/>
<circle cx="461.5" cy="329.5" r="1.5" stroke-width="1.15" stroke="#b0ff50"/>
<path d="M262.0 323.5h5M264.5 321.0v5" stroke="#40ffc0"/>
<circle cx="317.5" cy="336.5" r="1.5" stroke-width="1.15" stroke="#b0ff50"/>
<path d="M250.0 318.5h5M252.5 316.0v5" stroke="#00ffff"/>
<path d="M174.0 336.5h5M176.5 334.0v5" stroke="#00ffff"/>
<path d="M309.0 313.5h5M311.5 311.0v5" stroke="#40ffc0"/>
<path d="M367.0 345.5h5M369.5 343.0v5" stroke="#40ffc0"/>
<path d="M279.0 324.5h5M281.5 322.0v5" stroke="#40ffc0"/>
<path d="M488.0 324.5h5M490.5 322.0v5" stroke="#40ffc0"/>
<circle cx="290.5" cy="332.5" r="1.5" stroke-width="1.15" stroke="#b0ff50"/>
<path d="M302.0 318.5h5M304.5 316.0v5" stroke="#40ffc0"/>
<circle cx="403.5" cy="329.5" r="1.5" stroke-width="1.15" stroke="#b0ff50"/>
<circle cx="413.5" cy="337.5" r="1.5" stroke-width="1.15" stroke="#b0ff50"/>
<circle cx="334.5" cy="347.5" r="1.5" stroke-width="1.15" stroke="#b0ff50"/>
<path d="M237.0 328.5h5M239.5 326.0v5" stroke="#00ffff"/>
<circle cx="320.5" cy="316.5" r="1.5" stroke-width="1.15" stroke="#b0ff50"/>
<path d="M359.0 319.5h5M361.5 317.0v5" stroke="#00ffff"/>
<path d="M384.0 333.5h5M386.5 331.0v5" stroke="#40ffc0"/>
<path d="M396.0 332.5h5M398.5 330.0v5" stroke="#40ffc0"/>
<path d="M334.0 320.5h5M336.5 318.0v5" stroke="#40ffc0"/>
<circle cx="315.5" cy="321.5" r="1.5" stroke-width="1.15" stroke="#b0ff50"/>
<circle cx="509.5" cy="330.5" r="1.5" stroke-width="1.15" stroke="#b0ff50"/>
<path d="M290.0 328.5h5M292.5 326.0v5" stroke="#40ffc0"/>
<path d="M267.0 322.5h5M269.5 320.0v5" stroke="#40ffc0"/>
<path d="M299.0 322.5h5M301.5 320.0v5" stroke="#40ffc0"/>
<circle cx="326.5" cy="353.5" r="1.5" stroke-width="1.15" stroke="#b0ff50"/>
<path d="M318.0 348.5h5M320.5 346.0v5" stroke="#00ffff"/>
<path d="M300.0 316.5h5M302.5 314.0v5" stroke="#40ffc0"/>
<circle cx="445.5" cy="342.5" r="1.5" stroke-width="1.15" stroke="#b0ff50"/>
<path d="M207.0 311.5h5M209.5 309.0v5" stroke="#00ffff"/>
<path d="M306.0 311.5h5M308.5 309.0v5" stroke="#80ff80"/>
<circle cx="363.5" cy="328.5" r="1.5" stroke-width="1.15" stroke="#b0ff50"/>
<path d="M354.0 329.5h5M356.5 327.0v5" stroke="#00ffff"/>
<circle cx="422.5" cy="322.5" r="1.5" stroke-width="1.15" stroke="#b0ff50"/>
<path d="M337.0 326.5h5M339.5 324.0v5" stroke="#40ffc0"/>
<circle cx="480.5" cy="327.5" r="1.5" stroke-width="1.15" stroke="#f2f000"/>
<circle cx="351.5" cy="337.5" r="1.5" stroke-width="1.15" stroke="#b0ff50"/>
<path d="M315.0 328.5h5M317.5 326.0v5" stroke="#00ffff"/>
<circle cx="343.5" cy="319.5" r="1.5" stroke-width="1.15" stroke="#b0ff50"/>
<path d="M409.0 345.5h5M411.5 343.0v5" stroke="#40ffc0"/>
<path d="M369.0 329.5h5M371.5 327.0v5" stroke="#40ffc0"/>
<path d="M332.0 330.5h5M334.5 328.0v5" stroke="#80ff80"/>
<path d="M284.0 320.5h5M286.5 318.0v5" stroke="#40ffc0"/>
<circle cx="339.5" cy="336.5" r="1.5" stroke-width="1.15" stroke="#b0ff50"/>
<path d="M291.0 318.5h5M293.5 316.0v5" stroke="#40ffc0"/>
<path d="M360.0 325.5h5M362.5 323.0v5" stroke="#00ffff"/>
<path d="M291.0 331.5h5M293.5 329.0v5" stroke="#40ffc0"/>
<path d="M378.0 320.5h5M380.5 318.0v5" stroke="#40ffc0"/>
<circle cx="300.5" cy="343.5" r="1.5" stroke-width="1.15" stroke="#b0ff50"/>
<circle cx="326.5" cy="337.5" r="1.5" stroke-width="1.15" stroke="#b0ff50"/>
<path d="M343.0 299.5h5M345.5 297.0v5" stroke="#00ffff"/>
<circle cx="443.5" cy="347.5" r="1.5" stroke-width="1.15" stroke="#b0ff50"/>
<path d="M384.0 312.5h5M386.5 310.0v5" stroke="#40ffc0"/>
<path d="M390.0 328.5h5M392.5 326.0v5" stroke="#40ffc0"/>
<path d="M384.0 344.5h5M386.5 342.0v5" stroke="#40ffc0"/>
<path d="M371.0 333.5h5M373.5 331.0v5" stroke="#80ff80"/>
<path d="M317.0 324.5h5M319.5 322.0v5" stroke="#40ffc0"/>
<path d="M345.0 331.5h5M347.5 329.0v5" stroke="#00ffff"/>
<path d="M385.0 330.5h5M387.5 328.0v5" stroke="#40ffc0"/>
<path d="M228.0 335.5h5M230.5 333.0v5" stroke="#40ffc0"/>
<circle cx="362.5" cy="332.5" r="1.5" stroke-width="1.15" stroke="#b0ff50"/>
<circle cx="520.5" cy="338.5" r="1.5" stroke-width="1.15" stroke="#b0ff50"/>
<circle cx="466.5" cy="325.5" r="1.5" stroke-width="1.15" stroke="#b0ff50"/>
<path d="M362.0 334.5h5M364.5 332.0v5" stroke="#00ffff"/>
<path d="M370.0 334.5h5M372.5 332.0v5" stroke="#40ffc0"/>
<circle cx="461.5" cy="340.5" r="1.5" stroke-width="1.15" stroke="#b0ff50"/>
<path d="M306.0 337.5h5M308.5 335.0v5" stroke="#40ffc0"/>
<path d="M358.0 324.5h5M360.5 322.0v5" stroke="#40ffc0"/>
<circle cx="314.5" cy="327.5" r="1.5" stroke-width="1.15" stroke="#b0ff50"/>
<path d="M335.0 330.5h5M337.5 328.0v5" stroke="#40ffc0"/>
<path d="M333.0 328.5h5M335.5 326.0v5" stroke="#40ffc0"/>
<path d="M332.0 326.5h5M334.5 324.0v5" stroke="#40ffc0"/>
<path d="M282.0 340.5h5M284.5 338.0v5" stroke="#00ffff"/>
<circle cx="496.5" cy="323.5" r="1.5" stroke-width="1.15" stroke="#b0ff50"/>
<circle cx="318.5" cy="344.5" r="1.5" stroke-width="1.15" stroke="#b0ff50"/>
<circle cx="300.5" cy="323.5" r="1.5" stroke-width="1.15" stroke="#b0ff50"/>
<path d="M389.0 333.5h5M391.5 331.0v5" stroke="#00ffff"/>
<path d="M292.0 321.5h5M294.5 319.0v5" stroke="#40ffc0"/>
<circle cx="387.5" cy="333.5" r="1.5" stroke-width="1.15" stroke="#b0ff50"/>
<path d="M362.0 327.5h5M364.5 325.0v5" stroke="#00ffff"/>
<path d="M381.0 320.5h5M383.5 318.0v5" stroke="#00ffff"/>
<circle cx="319.5" cy="327.5" r="1.5" stroke-width="1.15" stroke="#b0ff50"/>
<circle cx="452.5" cy="332.5" r="1.5" stroke-width="1.15" stroke="#b0ff50"/>
<path d="M330.0 330.5h5M332.5 328.0v5" stroke="#00ffff"/>
<path d="M189.0 315.5h5M191.5 313.0v5" stroke="#00ffff"/>
<circle cx="429.5" cy="324.5" r="1.5" stroke-width="1.15" stroke="#b0ff50"/>
<circle cx="312.5" cy="312.5" r="1.5" stroke-width="1.15" stroke="#b0ff50"/>
<path d="M187.0 302.5h5M189.5 300.0v5" stroke="#40ffc0"/>
<path d="M373.0 326.5h5M375.5 324.0v5" stroke="#40ffc0"/>
<circle cx="332.5" cy="321.5" r="1.5" stroke-width="1.15" stroke="#b0ff50"/>
<path d="M361.0 325.5h5M363.5 323.0v5" stroke="#40ffc0"/>
<path d="M335.0 342.5h5M337.5 340.0v5" stroke="#40ffc0"/>
<path d="M328.0 314.5h5M330.5 312.0v5" stroke="#00ffff"/>
<path d="M363.0 328.5h5M365.5 326.0v5" stroke="#00ffff"/>
<circle cx="305.5" cy="325.5" r="1.5" stroke-width="1.15" stroke="#b0ff50"/>
<path d="M289.0 309.5h5M291.5 307.0v5" stroke="#40ffc0"/>
<path d="M243.0 318.5h5M245.5 316.0v5" stroke="#00ffff"/>
<path d="M233.0 288.5h5M235.5 286.0v5" stroke="#00ffff"/>
<circle cx="292.5" cy="326.5" r="1.5" stroke-width="1.15" stroke="#f2f000"/>
<path d="M159.0 326.5h5M161.5 324.0v5" stroke="#00ffff"/>
<path d="M320.0 333.5h5M322.5 331.0v5" stroke="#40ffc0"/>
<circle cx="314.5" cy="324.5" r="1.5" stroke-width="1.15" stroke="#b0ff50"/>
<circle cx="339.5" cy="317.5" r="1.5" stroke-width="1.15" stroke="#b0ff50"/>
<path d="M337.0 333.5h5M339.5 331.0v5" stroke="#40ffc0"/>
<path d="M253.0 331.5h5M255.5 329.0v5" stroke="#80ff80"/>
<circle cx="468.5" cy="332.5" r="1.5" stroke-width="1.15" stroke="#b0ff50"/>
<path d="M351.0 326.5h5M353.5 324.0v5" stroke="#40ffc0"/>
<path d="M535.0 345.5h5M537.5 343.0v5" stroke="#40ffc0"/>
<path d="M380.0 328.5h5M382.5 326.0v5" stroke="#00ffff"/>
<path d="M317.0 329.5h5M319.5 327.0v5" stroke="#80ff80"/>
<path d="M274.0 301.5h5M276.5 299.0v5" stroke="#40ffc0"/>
<path d="M260.0 322.5h5M262.5 320.0v5" stroke="#40ffc0"/>
<path d="M321.0 342.5h5M323.5 340.0v5" stroke="#00ffff"/>
<circle cx="464.5" cy="331.5" r="1.5" stroke-width="1.15" stroke="#b0ff50"/>
<circle cx="420.5" cy="318.5" r="1.5" stroke-width="1.15" stroke="#f2f000"/>
<circle cx="327.5" cy="359.5" r="1.5" stroke-width="1.15" stroke="#b0ff50"/>
<path d="M298.0 335.5h5M300.5 333.0v5" stroke="#00ffff"/>
<path d="M337.0 343.5h5M339.5 341.0v5" stroke="#00ffff"/>
<circle cx="250.5" cy="321.5" r="1.5" stroke-width="1.15" stroke="#b0ff50"/>
<path d="M351.0 324.5h5M353.5 322.0v5" stroke="#40ffc0"/>
<circle cx="423.5" cy="324.5" r="1.5" stroke-width="1.15" stroke="#b0ff50"/>
<path d="M362.0 330.5h5M364.5 328.0v5" stroke="#80ff80"/>
<path d="M347.0 326.5h5M349.5 324.0v5" stroke="#40ffc0"/>
<path d="M327.0 332.5h5M329.5 330.0v5" stroke="#80ff80"/>
<path d="M198.0 310.5h5M200.5 308.0v5" stroke="#80ff80"/>
<circle cx="312.5" cy="326.5" r="1.5" stroke-width="1.15" stroke="#f2f000"/>
<path d="M368.0 326.5h5M370.5 324.0v5" stroke="#00ffff"/>
<circle cx="437.5" cy="338.5" r="1.5" stroke-width="1.15" stroke="#b0ff50"/>
<circle cx="449.5" cy="323.5" r="1.5" stroke-width="1.15" stroke="#b0ff50"/>
<path d="M231.0 321.5h5M233.5 319.0v5" stroke="#00ffff"/>
<circle cx="359.5" cy="334.5" r="1.5" stroke-width="1.15" stroke="#b0ff50"/>
<path d="M388.0 325.5h5M390.5 323.0v5" stroke="#40ffc0"/>
<path d="M375.0 336.5h5M377.5 334.0v5" stroke="#00ffff"/>
<circle cx="423.5" cy="325.5" r="1.5" stroke-width="1.15" stroke="#b0ff50"/>
<circle cx="511.5" cy="330.5" r="1.5" stroke-width="1.15" stroke="#f2f000"/>
<circle cx="324.5" cy="320.5" r="1.5" stroke-width="1.15" stroke="#f2f000"/>
<path d="M367.0 322.5h5M369.5 320.0v5" stroke="#40ffc0"/>
<circle cx="442.5" cy="321.5" r="1.5" stroke-width="1.15" stroke="#b0ff50"/>
<path d="M343.0 322.5h5M345.5 320.0v5" stroke="#40ffc0"/>
<circle cx="312.5" cy="322.5" r="1.5" stroke-width="1.15" stroke="#b0ff50"/>
<circle cx="335.5" cy="310.5" r="1.5" stroke-width="1.15" stroke="#f2f000"/>
<circle cx="330.5" cy="328.5" r="1.5" stroke-width="1.15" stroke="#b0ff50"/>
<circle cx="319.5" cy="304.5" r="1.5" stroke-width="1.15" stroke="#f2f000"/>
<path d="M201.0 323.5h5M203.5 321.0v5" stroke="#80ff80"/>
<circle cx="440.5" cy="336.5" r="1.5" stroke-width="1.15" stroke="#f2f000"/>
<circle cx="351.5" cy="321.5" r="1.5" stroke-width="1.15" stroke="#f2f000"/>
<path d="M447.0 330.5h5M449.5 328.0v5" stroke="#40ffc0"/>
<path d="M348.0 323.5h5M350.5 321.0v5" stroke="#40ffc0"/>
<circle cx="375.5" cy="327.5" r="1.5" stroke-width="1.15" stroke="#b0ff50"/>
<circle cx="337.5" cy="332.5" r="1.5" stroke-width="1.15" stroke="#b0ff50"/>
<circle cx="428.5" cy="338.5" r="1.5" stroke-width="1.15" stroke="#b0ff50"/>
<path d="M347.0 315.5h5M349.5 313.0v5" stroke="#00ffff"/>
<path d="M296.0 328.5h5M298.5 326.0v5" stroke="#00c0ff"/>
<path d="M345.0 322.5h5M347.5 320.0v5" stroke="#80ff80"/>
<path d="M338.0 332.5h5M340.5 330.0v5" stroke="#40ffc0"/>
<circle cx="402.5" cy="321.5" r="1.5" stroke-width="1.15" stroke="#b0ff50"/>
<path d="M394.0 324.5h5M396.5 322.0v5" stroke="#00ffff"/>
<path d="M129.0 299.5h5M131.5 297.0v5" stroke="#00ffff"/>
<circle cx="372.5" cy="339.5" r="1.5" stroke-width="1.15" stroke="#f2f000"/>
<path d="M286.0 321.5h5M288.5 319.0v5" stroke="#00ffff"/>
<path d="M342.0 328.5h5M344.5 326.0v5" stroke="#40ffc0"/>
<circle cx="486.5" cy="323.5" r="1.5" stroke-width="1.15" stroke="#b0ff50"/>
<path d="M335.0 334.5h5M337.5 332.0v5" stroke="#40ffc0"/>
<path d="M253.0 345.5h5M255.5 343.0v5" stroke="#80ff80"/>
<circle cx="458.5" cy="344.5" r="1.5" stroke-width="1.15" stroke="#ffe400"/>
<path d="M337.0 324.5h5M339.5 322.0v5" stroke="#40ffc0"/>
<circle cx="449.5" cy="328.5" r="1.5" stroke-width="1.15" stroke="#f2f000"/>
<path d="M367.0 319.5h5M369.5 317.0v5" stroke="#40ffc0"/>
<path d="M272.0 327.5h5M274.5 325.0v5" stroke="#00ffff"/>
<path d="M299.0 324.5h5M301.5 322.0v5" stroke="#40ffc0"/>
<circle cx="345.5" cy="334.5" r="1.5" stroke-width="1.15" stroke="#b0ff50"/>
<circle cx="372.5" cy="336.5" r="1.5" stroke-width="1.15" stroke="#b0ff50"/>
<circle cx="365.5" cy="333.5" r="1.5" stroke-width="1.15" stroke="#b0ff50"/>
<circle cx="296.5" cy="328.5" r="1.5" stroke-width="1.15" stroke="#b0ff50"/>
<path d="M232.0 322.5h5M234.5 320.0v5" stroke="#00ffff"/>
<circle cx="405.5" cy="348.5" r="1.5" stroke-width="1.15" stroke="#b0ff50"/>
<path d="M232.0 326.5h5M234.5 324.0v5" stroke="#00ffff"/>
<path d="M344.0 330.5h5M346.5 328.0v5" stroke="#00ffff"/>
<circle cx="451.5" cy="326.5" r="1.5" stroke-width="1.15" stroke="#f2f000"/>
<path d="M354.0 325.5h5M356.5 323.0v5" stroke="#40ffc0"/>
<path d="M304.0 331.5h5M306.5 329.0v5" stroke="#40ffc0"/>
<circle cx="449.5" cy="315.5" r="1.5" stroke-width="1.15" stroke="#b0ff50"/>
<circle cx="393.5" cy="332.5" r="1.5" stroke-width="1.15" stroke="#b0ff50"/>
<circle cx="542.5" cy="357.5" r="1.5" stroke-width="1.15" stroke="#f2f000"/>
<path d="M368.0 339.5h5M370.5 337.0v5" stroke="#40ffc0"/>
<path d="M236.0 314.5h5M238.5 312.0v5" stroke="#40ffc0"/>
<path d="M309.0 330.5h5M311.5 328.0v5" stroke="#40ffc0"/>
<path d="M506.0 348.5h5M508.5 346.0v5" stroke="#40ffc0"/>
<path d="M298.0 315.5h5M300.5 313.0v5" stroke="#00ffff"/>
<circle cx="449.5" cy="343.5" r="1.5" stroke-width="1.15" stroke="#b0ff50"/>
<circle cx="537.5" cy="345.5" r="1.5" stroke-width="1.15" stroke="#f2f000"/>
<circle cx="324.5" cy="330.5" r="1.5" stroke-width="1.15" stroke="#b0ff50"/>
<circle cx="451.5" cy="329.5" r="1.5" stroke-width="1.15" stroke="#b0ff50"/>
<path d="M300.0 310.5h5M302.5 308.0v5" stroke="#00ffff"/>
<circle cx="491.5" cy="338.5" r="1.5" stroke-width="1.15" stroke="#b0ff50"/>
<path d="M341.0 325.5h5M343.5 323.0v5" stroke="#40ffc0"/>
<path d="M239.0 266.5h5M241.5 264.0v5" stroke="#80ff80"/>
<path d="M378.0 355.5h5M380.5 353.0v5" stroke="#40ffc0"/>
<circle cx="331.5" cy="354.5" r="1.5" stroke-width="1.15" stroke="#b0ff50"/>
<circle cx="479.5" cy="335.5" r="1.5" stroke-width="1.15" stroke="#b0ff50"/>
<circle cx="435.5" cy="318.5" r="1.5" stroke-width="1.15" stroke="#b0ff50"/>
<circle cx="355.5" cy="326.5" r="1.5" stroke-width="1.15" stroke="#b0ff50"/>
<path d="M337.0 335.5h5M339.5 333.0v5" stroke="#40ffc0"/>
<path d="M251.0 300.5h5M253.5 298.0v5" stroke="#00ffff"/>
<circle cx="404.5" cy="314.5" r="1.5" stroke-width="1.15" stroke="#f2f000"/>
<circle cx="481.5" cy="325.5" r="1.5" stroke-width="1.15" stroke="#b0ff50"/>
<circle cx="324.5" cy="346.5" r="1.5" stroke-width="1.15" stroke="#b0ff50"/>
<circle cx="457.5" cy="329.5" r="1.5" stroke-width="1.15" stroke="#b0ff50"/>
<path d="M369.0 318.5h5M371.5 316.0v5" stroke="#40ffc0"/>
<circle cx="469.5" cy="324.5" r="1.5" stroke-width="1.15" stroke="#b0ff50"/>
<circle cx="344.5" cy="323.5" r="1.5" stroke-width="1.15" stroke="#f2f000"/>
<path d="M333.0 330.5h5M335.5 328.0v5" stroke="#40ffc0"/>
<path d="M273.0 326.5h5M275.5 324.0v5" stroke="#40ffc0"/>
<circle cx="369.5" cy="336.5" r="1.5" stroke-width="1.15" stroke="#b0ff50"/>
<path d="M341.0 342.5h5M343.5 340.0v5" stroke="#80ff80"/>
<circle cx="367.5" cy="337.5" r="1.5" stroke-width="1.15" stroke="#b0ff50"/>
<path d="M306.0 345.5h5M308.5 343.0v5" stroke="#00ffff"/>
<circle cx="421.5" cy="323.5" r="1.5" stroke-width="1.15" stroke="#ffe400"/>
<path d="M250.0 326.5h5M252.5 324.0v5" stroke="#40ffc0"/>
<path d="M357.0 322.5h5M359.5 320.0v5" stroke="#40ffc0"/>
<path d="M324.0 319.5h5M326.5 317.0v5" stroke="#00ffff"/>
<path d="M293.0 337.5h5M295.5 335.0v5" stroke="#40ffc0"/>
<circle cx="342.5" cy="322.5" r="1.5" stroke-width="1.15" stroke="#b0ff50"/>
<path d="M369.0 327.5h5M371.5 325.0v5" stroke="#00ffff"/>
<path d="M293.0 342.5h5M295.5 340.0v5" stroke="#40ffc0"/>
<circle cx="525.5" cy="332.5" r="1.5" stroke-width="1.15" stroke="#b0ff50"/>
<path d="M229.0 323.5h5M231.5 321.0v5" stroke="#80ff80"/>
</g>
<polygon points="330.5,294.3 302.3,297.4 305.6,302.2 295.5,309.2 301.4,319.4 312.3,313.1 315.4,318.2" fill="none" stroke="#d0d0d0" stroke-width="1" stroke-linejoin="miter"/>
<text x="281.6" y="57" font-family="Liberation Mono" font-weight="bold" font-size="12.3" textLength="36.5" lengthAdjust="spacingAndGlyphs">North</text>
<text x="281.5" y="578" font-family="Liberation Sans" font-weight="bold" font-size="12.3" textLength="35.5" lengthAdjust="spacingAndGlyphs">South</text>
<text x="15.3" y="318.3" font-family="Liberation Mono" font-weight="bold" font-size="12.3" textLength="29.5" lengthAdjust="spacingAndGlyphs">West</text>
<text x="552.2" y="318.3" font-family="Liberation Sans" font-weight="bold" font-size="12.5" textLength="27.3" lengthAdjust="spacingAndGlyphs">East</text>
<text x="400" y="19" font-family="Liberation Mono" font-weight="bold" font-size="13.33" xml:space="preserve">STATION NAME    YYYY DATE  DDD HHMMSS AXN PPS IGP</text>
<text x="400" y="36" font-family="Liberation Mono" font-weight="bold" font-size="13.33" xml:space="preserve">Jicamarca       2010 Feb28 059 021745 417  75 +8G</text>
<text x="594" y="71.0" font-family="Liberation Mono" font-size="11.67" xml:space="preserve">Num of Sources          1313</text>
<text x="594" y="85.0" font-family="Liberation Mono" font-size="11.67" xml:space="preserve">Min Freq, kHz           3780</text>
<text x="594" y="99.0" font-family="Liberation Mono" font-size="11.67" xml:space="preserve">Max Freq, kHz           5320</text>
<text x="594" y="112.9" font-family="Liberation Mono" font-size="11.67" xml:space="preserve">Min Range, km            285</text>
<text x="594" y="126.9" font-family="Liberation Mono" font-size="11.67" xml:space="preserve">Max Range, km            415</text>
<text x="594" y="140.9" font-family="Liberation Mono" font-size="11.67" xml:space="preserve">Max Amp, dB               55</text>
<text x="594" y="154.9" font-family="Liberation Mono" font-size="11.67" xml:space="preserve">Max SNR Amp, dB           40</text>
<text x="594" y="168.9" font-family="Liberation Mono" font-size="11.67" xml:space="preserve">Min SNR Amp, dB           12</text>
<text x="594" y="182.8" font-family="Liberation Mono" font-size="11.67" xml:space="preserve">Avg SNR Amp, dB           21</text>
<text x="594" y="196.8" font-family="Liberation Mono" font-size="11.67" xml:space="preserve">Max RMS Err, deg        38.0</text>
<text x="594" y="210.8" font-family="Liberation Mono" font-size="11.67" xml:space="preserve">Min RMS Err, deg         0.0</text>
<text x="594" y="224.8" font-family="Liberation Mono" font-size="11.67" xml:space="preserve">Avg RMS Err, deg         6.2</text>
<text x="594" y="238.8" font-family="Liberation Mono" font-size="11.67" xml:space="preserve">Doppler Res, Hz       0.0723</text>
<text x="594" y="252.7" font-family="Liberation Mono" font-size="11.67" xml:space="preserve">CIT, sec               13.84</text>
<text x="594" y="266.7" font-family="Liberation Mono" font-size="11.67" xml:space="preserve">Num of CITs                2</text>
<text x="594" y="280.7" font-family="Liberation Mono" font-size="11.67" xml:space="preserve">Polarization          O-mode</text>
<text x="594" y="294.7" font-family="Liberation Mono" font-size="11.67" xml:space="preserve">Center of Sources, deg:     </text>
<text x="594" y="308.7" font-family="Liberation Mono" font-size="11.67" xml:space="preserve">          Zenith         8.8</text>
<text x="594" y="322.6" font-family="Liberation Mono" font-size="11.67" xml:space="preserve">          Azimuth        253</text>
<path d="M720.3,319.6 L722.3,320.6 M722.3,320.6 Q722.8,317.6 725.8,318.2 L725.8,320" fill="none" stroke="#222" stroke-width="1.1"/>
<rect x="593" y="341.3" width="15.2" height="241.2" fill="url(#jet)"/>
<line x1="608.5" y1="341.3" x2="608.5" y2="582.5" stroke="#000" stroke-width="1.2"/>
<line x1="608" y1="341.52" x2="615" y2="341.52" stroke="#000" stroke-width="1.2"/>
<text x="617.75" y="344.82" font-family="Liberation Sans" font-weight="bold" font-size="10.6" textLength="18" lengthAdjust="spacingAndGlyphs">4.6</text>
<line x1="608" y1="357.22" x2="615" y2="357.22" stroke="#000" stroke-width="1.2"/>
<line x1="608" y1="383.39" x2="615" y2="383.39" stroke="#000" stroke-width="1.2"/>
<text x="617.75" y="386.69" font-family="Liberation Sans" font-weight="bold" font-size="10.6" textLength="18" lengthAdjust="spacingAndGlyphs">3.0</text>
<line x1="608" y1="409.56" x2="615" y2="409.56" stroke="#000" stroke-width="1.2"/>
<text x="617.75" y="412.86" font-family="Liberation Sans" font-weight="bold" font-size="10.6" textLength="18" lengthAdjust="spacingAndGlyphs">2.0</text>
<line x1="608" y1="435.73" x2="615" y2="435.73" stroke="#000" stroke-width="1.2"/>
<text x="617.75" y="439.03" font-family="Liberation Sans" font-weight="bold" font-size="10.6" textLength="18" lengthAdjust="spacingAndGlyphs">1.0</text>
<line x1="608" y1="461.90" x2="615" y2="461.90" stroke="#000" stroke-width="1.2"/>
<text x="617.75" y="465.20" font-family="Liberation Sans" font-weight="bold" font-size="10.6" textLength="6.4" lengthAdjust="spacingAndGlyphs">0</text>
<line x1="608" y1="488.07" x2="615" y2="488.07" stroke="#000" stroke-width="1.2"/>
<text x="617.75" y="491.37" font-family="Liberation Sans" font-weight="bold" font-size="10.6" textLength="23.2" lengthAdjust="spacingAndGlyphs">-1.0</text>
<line x1="608" y1="514.24" x2="615" y2="514.24" stroke="#000" stroke-width="1.2"/>
<text x="617.75" y="517.54" font-family="Liberation Sans" font-weight="bold" font-size="10.6" textLength="23.2" lengthAdjust="spacingAndGlyphs">-2.0</text>
<line x1="608" y1="540.41" x2="615" y2="540.41" stroke="#000" stroke-width="1.2"/>
<text x="617.75" y="543.71" font-family="Liberation Sans" font-weight="bold" font-size="10.6" textLength="23.2" lengthAdjust="spacingAndGlyphs">-3.0</text>
<line x1="608" y1="566.58" x2="615" y2="566.58" stroke="#000" stroke-width="1.2"/>
<line x1="608" y1="582.28" x2="615" y2="582.28" stroke="#000" stroke-width="1.2"/>
<text x="617.75" y="585.58" font-family="Liberation Sans" font-weight="bold" font-size="10.6" textLength="23.2" lengthAdjust="spacingAndGlyphs">-4.6</text>
<text transform="translate(656.8,492) rotate(-90)" font-family="Liberation Sans" font-weight="bold" font-size="9.8" textLength="53" lengthAdjust="spacingAndGlyphs">Doppler, Hz</text>
<path d="M668.8,402.5 h8.3 M673,398.6 v7.8" stroke="#0000e0" stroke-width="1.1"/>
<text x="682.8" y="406.2" font-family="Liberation Sans" font-weight="bold" font-size="10.3" fill="#0000e0" textLength="44.3" lengthAdjust="spacingAndGlyphs">Positive</text>
<circle cx="672.7" cy="523" r="2.6" fill="none" stroke="#ff0000" stroke-width="1.2"/>
<text x="682.8" y="526.5" font-family="Liberation Sans" font-weight="bold" font-size="10.3" fill="#ff0000" textLength="50.5" lengthAdjust="spacingAndGlyphs">Negative</text>
<text x="12" y="571.5" font-family="Liberation Mono" font-style="italic" font-size="11.67">V</text>
<text x="19" y="575.6" font-family="Liberation Sans" font-size="9.5">h</text>
<text x="33" y="571.5" font-family="Liberation Mono" font-style="italic" font-size="11.67" xml:space="preserve">= 120 ± 31 </text>
<text x="110" y="571.5" font-family="Liberation Mono" font-size="11.67">m/s</text>
<text x="12" y="592.4" font-family="Liberation Mono" font-style="italic" font-size="11.67">Compass coordinates</text>
<text x="467" y="571.8" font-family="Liberation Mono" font-style="italic" font-size="11.67">V</text>
<text x="474.5" y="576" font-family="Liberation Sans" font-size="9.5">z</text>
<text x="488" y="571.8" font-family="Liberation Mono" font-style="italic" font-size="11.67" xml:space="preserve">= -10 ± 2 </text>
<text x="558" y="571.8" font-family="Liberation Mono" font-size="11.67">m/s</text>
<text x="419.5" y="592.3" font-family="Liberation Mono" font-style="italic" font-size="11.67" xml:space="preserve">Zenith: max 40°</text>
<text x="534" y="592.3" font-family="Liberation Mono" font-style="italic" font-size="11.67" xml:space="preserve">step 5°</text>
<text x="654" y="592.8" font-family="Liberation Sans" font-size="9.3" xml:space="preserve" textLength="138.2">ShowSkymap v 1.0   SD v 4.2</text>
<path d="M39,13.3 C33,11 22,12.5 16.5,17 C12,21 10.8,27 11,33 C11.2,37 12.5,40.5 14.7,42.7 C13.8,39 13.3,36 13.6,33 C13.9,27 15.6,21.8 19.6,18.2 C24,14.6 31,12.8 39,13.3 Z" fill="#3a9cc8"/>
<text x="48.7" y="30.6" font-family="Liberation Serif" font-size="10.6" fill="#2a2028" textLength="30.3" lengthAdjust="spacingAndGlyphs">Lowell</text>
<text x="20" y="43" font-family="Liberation Sans" font-size="10.8" fill="#982860" stroke="#982860" stroke-width="0.35" textLength="59.5" lengthAdjust="spacingAndGlyphs">DIGISONDE</text>
</svg></body></html>
